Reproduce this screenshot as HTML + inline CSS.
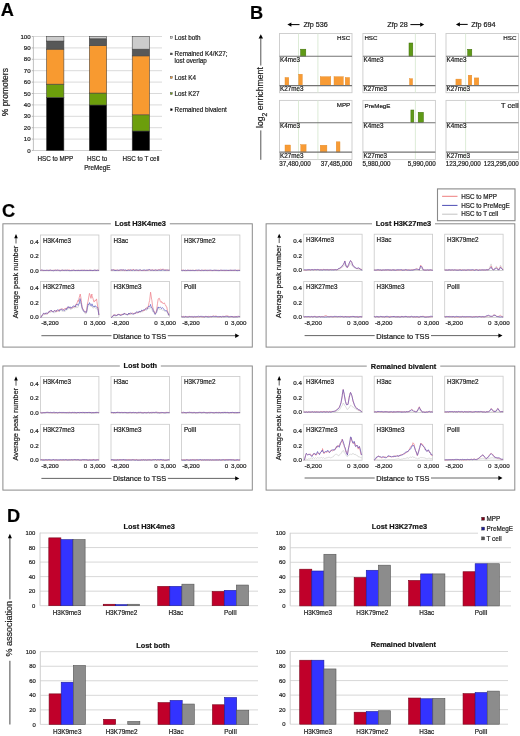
<!DOCTYPE html>
<html><head><meta charset="utf-8"><style>
html,body{margin:0;padding:0;background:#fff;}
svg{display:block;font-family:"Liberation Sans",sans-serif;will-change:transform;}
text{stroke:#222;stroke-width:0.2px;}
</style></head><body>
<svg width="520" height="736" viewBox="0 0 520 736">
<rect width="520" height="736" fill="#fff"/>
<text x="0.70" y="15.60" font-size="18.2" text-anchor="start" font-weight="bold" fill="#000" >A</text>
<line x1="33.40" y1="139.10" x2="162.00" y2="139.10" stroke="#d6d6d6" stroke-width="0.9"/>
<line x1="33.40" y1="127.70" x2="162.00" y2="127.70" stroke="#d6d6d6" stroke-width="0.9"/>
<line x1="33.40" y1="116.30" x2="162.00" y2="116.30" stroke="#d6d6d6" stroke-width="0.9"/>
<line x1="33.40" y1="104.90" x2="162.00" y2="104.90" stroke="#d6d6d6" stroke-width="0.9"/>
<line x1="33.40" y1="93.50" x2="162.00" y2="93.50" stroke="#d6d6d6" stroke-width="0.9"/>
<line x1="33.40" y1="82.10" x2="162.00" y2="82.10" stroke="#d6d6d6" stroke-width="0.9"/>
<line x1="33.40" y1="70.70" x2="162.00" y2="70.70" stroke="#d6d6d6" stroke-width="0.9"/>
<line x1="33.40" y1="59.30" x2="162.00" y2="59.30" stroke="#d6d6d6" stroke-width="0.9"/>
<line x1="33.40" y1="47.90" x2="162.00" y2="47.90" stroke="#d6d6d6" stroke-width="0.9"/>
<line x1="33.40" y1="36.50" x2="162.00" y2="36.50" stroke="#d6d6d6" stroke-width="0.9"/>
<line x1="33.40" y1="150.50" x2="162.00" y2="150.50" stroke="#cfcfcf" stroke-width="1.2"/>
<line x1="33.40" y1="36.50" x2="33.40" y2="150.50" stroke="#b0b0b0" stroke-width="0.8"/>
<line x1="31.80" y1="150.50" x2="33.40" y2="150.50" stroke="#aaaaaa" stroke-width="0.8"/>
<text x="30.60" y="152.60" font-size="6.1" text-anchor="end" fill="#222" >0</text>
<line x1="31.80" y1="139.10" x2="33.40" y2="139.10" stroke="#aaaaaa" stroke-width="0.8"/>
<text x="30.60" y="141.20" font-size="6.1" text-anchor="end" fill="#222" >10</text>
<line x1="31.80" y1="127.70" x2="33.40" y2="127.70" stroke="#aaaaaa" stroke-width="0.8"/>
<text x="30.60" y="129.80" font-size="6.1" text-anchor="end" fill="#222" >20</text>
<line x1="31.80" y1="116.30" x2="33.40" y2="116.30" stroke="#aaaaaa" stroke-width="0.8"/>
<text x="30.60" y="118.40" font-size="6.1" text-anchor="end" fill="#222" >30</text>
<line x1="31.80" y1="104.90" x2="33.40" y2="104.90" stroke="#aaaaaa" stroke-width="0.8"/>
<text x="30.60" y="107.00" font-size="6.1" text-anchor="end" fill="#222" >40</text>
<line x1="31.80" y1="93.50" x2="33.40" y2="93.50" stroke="#aaaaaa" stroke-width="0.8"/>
<text x="30.60" y="95.60" font-size="6.1" text-anchor="end" fill="#222" >50</text>
<line x1="31.80" y1="82.10" x2="33.40" y2="82.10" stroke="#aaaaaa" stroke-width="0.8"/>
<text x="30.60" y="84.20" font-size="6.1" text-anchor="end" fill="#222" >60</text>
<line x1="31.80" y1="70.70" x2="33.40" y2="70.70" stroke="#aaaaaa" stroke-width="0.8"/>
<text x="30.60" y="72.80" font-size="6.1" text-anchor="end" fill="#222" >70</text>
<line x1="31.80" y1="59.30" x2="33.40" y2="59.30" stroke="#aaaaaa" stroke-width="0.8"/>
<text x="30.60" y="61.40" font-size="6.1" text-anchor="end" fill="#222" >80</text>
<line x1="31.80" y1="47.90" x2="33.40" y2="47.90" stroke="#aaaaaa" stroke-width="0.8"/>
<text x="30.60" y="50.00" font-size="6.1" text-anchor="end" fill="#222" >90</text>
<line x1="31.80" y1="36.50" x2="33.40" y2="36.50" stroke="#aaaaaa" stroke-width="0.8"/>
<text x="30.60" y="38.60" font-size="6.1" text-anchor="end" fill="#222" >100</text>
<rect x="46.50" y="97.38" width="17.40" height="53.12" fill="#000000" stroke="#404040" stroke-width="0.55"/>
<rect x="46.50" y="84.15" width="17.40" height="13.22" fill="#6c9e0c" stroke="#404040" stroke-width="0.55"/>
<rect x="46.50" y="49.15" width="17.40" height="35.00" fill="#f89a30" stroke="#404040" stroke-width="0.55"/>
<rect x="46.50" y="41.06" width="17.40" height="8.09" fill="#575858" stroke="#404040" stroke-width="0.55"/>
<rect x="46.50" y="36.50" width="17.40" height="4.56" fill="#cccccc" stroke="#404040" stroke-width="0.55"/>
<rect x="89.30" y="105.01" width="17.40" height="45.49" fill="#000000" stroke="#404040" stroke-width="0.55"/>
<rect x="89.30" y="93.04" width="17.40" height="11.97" fill="#6c9e0c" stroke="#404040" stroke-width="0.55"/>
<rect x="89.30" y="45.51" width="17.40" height="47.54" fill="#f89a30" stroke="#404040" stroke-width="0.55"/>
<rect x="89.30" y="38.78" width="17.40" height="6.73" fill="#575858" stroke="#404040" stroke-width="0.55"/>
<rect x="89.30" y="36.50" width="17.40" height="2.28" fill="#cccccc" stroke="#404040" stroke-width="0.55"/>
<rect x="132.20" y="131.01" width="17.40" height="19.49" fill="#000000" stroke="#404040" stroke-width="0.55"/>
<rect x="132.20" y="114.82" width="17.40" height="16.19" fill="#6c9e0c" stroke="#404040" stroke-width="0.55"/>
<rect x="132.20" y="55.88" width="17.40" height="58.94" fill="#f89a30" stroke="#404040" stroke-width="0.55"/>
<rect x="132.20" y="49.15" width="17.40" height="6.73" fill="#575858" stroke="#404040" stroke-width="0.55"/>
<rect x="132.20" y="36.50" width="17.40" height="12.65" fill="#cccccc" stroke="#404040" stroke-width="0.55"/>
<rect x="170.40" y="36.50" width="1.80" height="1.80" fill="#d0d0d0" stroke="#333" stroke-width="0.4"/>
<text x="174.60" y="39.60" font-size="6.3" text-anchor="start" fill="#222" >Lost both</text>
<rect x="170.40" y="53.00" width="1.80" height="1.80" fill="#575858" stroke="#333" stroke-width="0.4"/>
<text x="174.60" y="56.10" font-size="6.3" text-anchor="start" fill="#222" >Remained K4/K27;</text>
<rect x="170.40" y="76.60" width="1.80" height="1.80" fill="#f89a30" stroke="#333" stroke-width="0.4"/>
<text x="174.60" y="79.70" font-size="6.3" text-anchor="start" fill="#222" >Lost K4</text>
<rect x="170.40" y="92.60" width="1.80" height="1.80" fill="#6c9e0c" stroke="#333" stroke-width="0.4"/>
<text x="174.60" y="95.70" font-size="6.3" text-anchor="start" fill="#222" >Lost K27</text>
<rect x="170.40" y="108.80" width="1.80" height="1.80" fill="#000" stroke="#333" stroke-width="0.4"/>
<text x="174.60" y="111.90" font-size="6.3" text-anchor="start" fill="#222" >Remained bivalent</text>
<text x="174.60" y="63.30" font-size="6.3" text-anchor="start" fill="#222" >lost overlap</text>
<text x="55.30" y="161.20" font-size="6.3" text-anchor="middle" fill="#222" >HSC to MPP</text>
<text x="97.20" y="161.20" font-size="6.3" text-anchor="middle" fill="#222" >HSC to</text>
<text x="97.30" y="170.00" font-size="6.3" text-anchor="middle" fill="#222" >PreMegE</text>
<text x="141.00" y="161.20" font-size="6.3" text-anchor="middle" fill="#222" >HSC to T cell</text>
<text x="0" y="0" font-size="8.5" text-anchor="middle" fill="#222" transform="translate(8.0,92.2) rotate(-90)">% promoters</text>
<text x="249.90" y="18.50" font-size="18.2" text-anchor="start" font-weight="bold" fill="#000" >B</text>
<line x1="260.80" y1="38.30" x2="260.80" y2="65.50" stroke="#555" stroke-width="1.0"/>
<polygon points="260.80,34.30 258.60,38.60 263.00,38.60" fill="#000"/>
<line x1="260.80" y1="130.40" x2="260.80" y2="159.80" stroke="#555" stroke-width="1.0"/>
<text x="0" y="0" font-size="8.7" text-anchor="middle" fill="#222" transform="translate(262.8,97.6) rotate(-90)">log<tspan font-size="6.9" dy="4.0">2</tspan><tspan dy="-4.0"> enrichment</tspan></text>
<line x1="290.90" y1="24.60" x2="299.50" y2="24.60" stroke="#000" stroke-width="1.0"/>
<polygon points="287.40,24.60 291.40,22.50 291.40,26.70" fill="#000"/>
<text x="303.40" y="27.20" font-size="7.2" text-anchor="start" fill="#111" >Zfp 536</text>
<text x="387.30" y="27.20" font-size="7.2" text-anchor="start" fill="#111" >Zfp 28</text>
<line x1="410.40" y1="24.60" x2="420.70" y2="24.60" stroke="#000" stroke-width="1.0"/>
<polygon points="424.20,24.60 420.20,22.50 420.20,26.70" fill="#000"/>
<line x1="459.40" y1="24.40" x2="467.70" y2="24.40" stroke="#000" stroke-width="1.0"/>
<polygon points="455.90,24.40 459.90,22.30 459.90,26.50" fill="#000"/>
<text x="471.20" y="27.00" font-size="7.2" text-anchor="start" fill="#111" >Zfp 694</text>
<rect x="279.50" y="33.50" width="72.50" height="59.20" fill="#fff" stroke="#cbcbcb" stroke-width="0.9"/>
<rect x="362.90" y="33.50" width="72.50" height="59.20" fill="#fff" stroke="#cbcbcb" stroke-width="0.9"/>
<rect x="446.00" y="33.50" width="72.50" height="59.20" fill="#fff" stroke="#cbcbcb" stroke-width="0.9"/>
<rect x="279.50" y="100.40" width="72.50" height="59.20" fill="#fff" stroke="#cbcbcb" stroke-width="0.9"/>
<rect x="362.90" y="100.40" width="72.50" height="59.20" fill="#fff" stroke="#cbcbcb" stroke-width="0.9"/>
<rect x="446.00" y="100.40" width="72.50" height="59.20" fill="#fff" stroke="#cbcbcb" stroke-width="0.9"/>
<line x1="298.50" y1="33.50" x2="298.50" y2="92.70" stroke="#d9ead3" stroke-width="0.9"/>
<line x1="317.90" y1="33.50" x2="317.90" y2="92.70" stroke="#d9ead3" stroke-width="0.9"/>
<line x1="415.40" y1="33.50" x2="415.40" y2="92.70" stroke="#d9ead3" stroke-width="0.9"/>
<line x1="465.60" y1="33.50" x2="465.60" y2="92.70" stroke="#d9ead3" stroke-width="0.9"/>
<line x1="298.50" y1="100.40" x2="298.50" y2="159.60" stroke="#d9ead3" stroke-width="0.9"/>
<line x1="317.90" y1="100.40" x2="317.90" y2="159.60" stroke="#d9ead3" stroke-width="0.9"/>
<line x1="415.40" y1="100.40" x2="415.40" y2="159.60" stroke="#d9ead3" stroke-width="0.9"/>
<line x1="465.60" y1="100.40" x2="465.60" y2="159.60" stroke="#d9ead3" stroke-width="0.9"/>
<rect x="300.60" y="49.20" width="5.20" height="7.00" fill="#5f9a16" stroke="#3f6e08" stroke-width="0.5"/>
<rect x="285.00" y="77.50" width="3.80" height="8.10" fill="#f89b35" stroke="#e08a28" stroke-width="0.4"/>
<rect x="298.70" y="74.20" width="3.60" height="11.40" fill="#f89b35" stroke="#e08a28" stroke-width="0.4"/>
<rect x="320.20" y="76.70" width="10.60" height="8.90" fill="#f89b35" stroke="#e08a28" stroke-width="0.4"/>
<rect x="334.00" y="76.70" width="9.30" height="8.90" fill="#f89b35" stroke="#e08a28" stroke-width="0.4"/>
<rect x="345.20" y="77.50" width="4.40" height="8.10" fill="#f89b35" stroke="#e08a28" stroke-width="0.4"/>
<rect x="409.00" y="43.00" width="3.80" height="13.20" fill="#5f9a16" stroke="#3f6e08" stroke-width="0.5"/>
<rect x="409.50" y="78.70" width="3.10" height="6.90" fill="#f89b35" stroke="#e08a28" stroke-width="0.4"/>
<rect x="467.70" y="49.30" width="4.10" height="6.90" fill="#5f9a16" stroke="#3f6e08" stroke-width="0.5"/>
<rect x="455.90" y="79.10" width="5.30" height="6.50" fill="#f89b35" stroke="#e08a28" stroke-width="0.4"/>
<rect x="468.20" y="75.20" width="3.60" height="10.40" fill="#f89b35" stroke="#e08a28" stroke-width="0.4"/>
<rect x="474.20" y="77.90" width="4.60" height="7.70" fill="#f89b35" stroke="#e08a28" stroke-width="0.4"/>
<rect x="285.00" y="145.00" width="5.50" height="7.10" fill="#f89b35" stroke="#e08a28" stroke-width="0.4"/>
<rect x="300.80" y="144.60" width="5.30" height="7.50" fill="#f89b35" stroke="#e08a28" stroke-width="0.4"/>
<rect x="320.20" y="145.20" width="6.70" height="6.90" fill="#f89b35" stroke="#e08a28" stroke-width="0.4"/>
<rect x="336.20" y="141.80" width="3.80" height="10.30" fill="#f89b35" stroke="#e08a28" stroke-width="0.4"/>
<rect x="410.90" y="110.00" width="2.90" height="12.70" fill="#5f9a16" stroke="#3f6e08" stroke-width="0.5"/>
<rect x="418.20" y="112.30" width="5.20" height="10.40" fill="#5f9a16" stroke="#3f6e08" stroke-width="0.5"/>
<line x1="279.50" y1="56.20" x2="352.00" y2="56.20" stroke="#737373" stroke-width="1.1"/>
<line x1="279.50" y1="85.60" x2="352.00" y2="85.60" stroke="#737373" stroke-width="1.1"/>
<text x="280.10" y="61.80" font-size="6.3" text-anchor="start" fill="#222" >K4me3</text>
<text x="280.10" y="91.40" font-size="6.3" text-anchor="start" fill="#222" >K27me3</text>
<line x1="362.90" y1="56.20" x2="435.40" y2="56.20" stroke="#737373" stroke-width="1.1"/>
<line x1="362.90" y1="85.60" x2="435.40" y2="85.60" stroke="#737373" stroke-width="1.1"/>
<text x="363.50" y="61.80" font-size="6.3" text-anchor="start" fill="#222" >K4me3</text>
<text x="363.50" y="91.40" font-size="6.3" text-anchor="start" fill="#222" >K27me3</text>
<line x1="446.00" y1="56.20" x2="518.50" y2="56.20" stroke="#737373" stroke-width="1.1"/>
<line x1="446.00" y1="85.60" x2="518.50" y2="85.60" stroke="#737373" stroke-width="1.1"/>
<text x="446.60" y="61.80" font-size="6.3" text-anchor="start" fill="#222" >K4me3</text>
<text x="446.60" y="91.40" font-size="6.3" text-anchor="start" fill="#222" >K27me3</text>
<line x1="279.50" y1="122.70" x2="352.00" y2="122.70" stroke="#737373" stroke-width="1.1"/>
<line x1="279.50" y1="152.10" x2="352.00" y2="152.10" stroke="#737373" stroke-width="1.1"/>
<text x="280.10" y="128.30" font-size="6.3" text-anchor="start" fill="#222" >K4me3</text>
<text x="280.10" y="157.90" font-size="6.3" text-anchor="start" fill="#222" >K27me3</text>
<line x1="362.90" y1="122.70" x2="435.40" y2="122.70" stroke="#737373" stroke-width="1.1"/>
<line x1="362.90" y1="152.10" x2="435.40" y2="152.10" stroke="#737373" stroke-width="1.1"/>
<text x="363.50" y="128.30" font-size="6.3" text-anchor="start" fill="#222" >K4me3</text>
<text x="363.50" y="157.90" font-size="6.3" text-anchor="start" fill="#222" >K27me3</text>
<line x1="446.00" y1="122.70" x2="518.50" y2="122.70" stroke="#737373" stroke-width="1.1"/>
<line x1="446.00" y1="152.10" x2="518.50" y2="152.10" stroke="#737373" stroke-width="1.1"/>
<text x="446.60" y="128.30" font-size="6.3" text-anchor="start" fill="#222" >K4me3</text>
<text x="446.60" y="157.90" font-size="6.3" text-anchor="start" fill="#222" >K27me3</text>
<text x="350.20" y="40.20" font-size="6.2" text-anchor="end" fill="#222" >HSC</text>
<text x="364.40" y="40.20" font-size="6.2" text-anchor="start" fill="#222" >HSC</text>
<text x="516.40" y="40.20" font-size="6.2" text-anchor="end" fill="#222" >HSC</text>
<text x="350.20" y="107.40" font-size="6.2" text-anchor="end" fill="#222" >MPP</text>
<text x="364.60" y="107.60" font-size="6.2" text-anchor="start" fill="#222" >PreMegE</text>
<text x="518.60" y="107.50" font-size="7.4" text-anchor="end" fill="#111" >T cell</text>
<text x="279.20" y="166.00" font-size="6.3" text-anchor="start" fill="#222" >37,480,000</text>
<text x="352.30" y="166.00" font-size="6.3" text-anchor="end" fill="#222" >37,485,000</text>
<text x="362.60" y="166.00" font-size="6.3" text-anchor="start" fill="#222" >5,980,000</text>
<text x="435.70" y="166.00" font-size="6.3" text-anchor="end" fill="#222" >5,990,000</text>
<text x="445.70" y="166.00" font-size="6.3" text-anchor="start" fill="#222" >123,290,000</text>
<text x="518.80" y="166.00" font-size="6.3" text-anchor="end" fill="#222" >123,295,000</text>
<text x="2.00" y="217.30" font-size="18.2" text-anchor="start" font-weight="bold" fill="#000" >C</text>
<rect x="2.90" y="223.80" width="249.40" height="123.30" fill="none" stroke="#8a8a8a" stroke-width="1"/>
<rect x="110.80" y="221.80" width="59.00" height="4.00" fill="#fff" stroke="none" stroke-width="0.6"/>
<text x="140.30" y="226.20" font-size="7.4" text-anchor="middle" font-weight="bold" fill="#111" >Lost H3K4me3</text>
<line x1="16.00" y1="237.90" x2="16.00" y2="243.50" stroke="#333" stroke-width="0.8"/>
<polygon points="16.00,234.10 14.20,238.20 17.80,238.20" fill="#000"/>
<text x="0" y="0" font-size="7.4" text-anchor="middle" fill="#222" transform="translate(18.00,282.05) rotate(-90)">Average peak number</text>
<line x1="41.40" y1="335.70" x2="111.50" y2="335.70" stroke="#555" stroke-width="0.9"/>
<text x="139.60" y="338.70" font-size="7.4" text-anchor="middle" fill="#111" >Distance to TSS</text>
<line x1="167.80" y1="335.70" x2="236.00" y2="335.70" stroke="#555" stroke-width="0.9"/>
<polygon points="239.30,335.70 235.20,333.50 235.20,337.90" fill="#000"/>
<rect x="40.50" y="235.00" width="58.40" height="35.80" fill="#fff" stroke="#c9c9c9" stroke-width="0.8"/>
<text x="42.90" y="242.60" font-size="6.3" text-anchor="start" fill="#222" >H3K4me3</text>
<polyline points="40.50,270.18 40.50,269.96 41.49,269.97 42.00,270.18 42.48,270.52 43.47,270.75 43.49,270.56 44.46,270.40 44.99,270.55 45.45,270.34 46.44,270.16 46.49,270.23 47.43,270.35 47.99,270.27 48.42,270.23 49.41,270.25 49.48,270.30 50.40,270.36 50.98,270.46 51.39,270.58 52.38,270.37 52.48,270.33 53.37,270.38 53.98,270.33 54.36,270.22 55.35,270.10 55.47,270.34 56.34,270.23 56.97,270.52 57.33,270.47 58.32,270.44 58.47,270.40 59.31,270.52 59.97,270.42 60.30,270.61 61.29,270.52 61.46,270.28 62.28,270.23 62.96,270.16 63.27,270.26 64.26,270.24 64.46,270.18 65.25,270.09 65.96,270.36 66.24,270.35 67.23,270.36 67.45,270.40 68.22,270.56 68.95,270.47 69.21,270.71 70.19,270.64 70.45,270.57 71.18,270.74 71.95,270.58 72.17,270.54 73.16,270.19 73.44,270.39 74.15,270.34 74.94,270.45 75.14,270.60 76.13,270.24 76.44,270.43 77.12,270.18 77.94,270.21 78.11,270.11 79.10,270.13 79.43,270.36 80.09,270.23 80.93,270.35 81.08,270.22 82.07,270.52 82.43,270.49 83.06,270.30 83.93,270.58 84.05,270.35 85.04,270.64 85.42,270.45 86.03,270.36 86.92,270.53 87.02,270.42 88.01,270.43 88.42,270.37 89.00,270.27 89.92,270.16 89.99,270.17 90.98,270.06 91.41,270.30 91.97,270.38 92.91,270.51 92.96,270.34 93.95,270.37 94.41,270.21 94.94,270.04 95.91,270.25 95.93,270.06 96.92,270.28 97.40,270.27 97.91,270.22 98.90,270.20 98.90,270.00" fill="none" stroke="#cdcdcd" stroke-width="0.8" stroke-opacity="0.85" stroke-linejoin="round"/>
<polyline points="40.50,270.23 40.50,270.06 41.49,270.13 42.00,270.26 42.48,270.35 43.47,270.52 43.49,270.41 44.46,270.45 44.99,270.48 45.45,270.49 46.44,270.24 46.49,270.37 47.43,270.49 47.99,270.41 48.42,270.38 49.41,270.22 49.48,270.25 50.40,270.18 50.98,270.46 51.39,270.44 52.38,270.49 52.48,270.38 53.37,270.24 53.98,270.34 54.36,270.25 55.35,270.33 55.47,270.20 56.34,270.10 56.97,270.37 57.33,270.17 58.32,270.31 58.47,270.47 59.31,270.16 59.97,270.27 60.30,270.37 61.29,270.21 61.46,270.32 62.28,270.22 62.96,270.48 63.27,270.34 64.26,270.25 64.46,270.20 65.25,270.38 65.96,270.17 66.24,270.21 67.23,270.18 67.45,270.24 68.22,270.02 68.95,270.20 69.21,270.02 70.19,270.42 70.45,270.45 71.18,270.19 71.95,270.28 72.17,270.38 73.16,270.07 73.44,270.20 74.15,270.22 74.94,270.30 75.14,270.54 76.13,270.26 76.44,270.39 77.12,270.51 77.94,270.54 78.11,270.38 79.10,270.35 79.43,270.40 80.09,270.61 80.93,270.33 81.08,270.32 82.07,270.05 82.43,270.20 83.06,270.31 83.93,270.18 84.05,270.28 85.04,270.15 85.42,270.38 86.03,270.46 86.92,270.22 87.02,270.20 88.01,270.53 88.42,270.48 89.00,270.16 89.92,270.24 89.99,270.10 90.98,270.35 91.41,270.35 91.97,270.64 92.91,270.58 92.96,270.65 93.95,270.37 94.41,270.28 94.94,270.12 95.91,270.42 95.93,270.60 96.92,270.27 97.40,270.24 97.91,270.16 98.90,270.30 98.90,270.28" fill="none" stroke="#ee7f88" stroke-width="0.8" stroke-opacity="0.9" stroke-linejoin="round"/>
<polyline points="40.50,270.70 40.50,270.53 41.49,270.16 42.00,270.23 42.48,270.11 43.47,270.38 43.49,270.26 44.46,270.40 44.99,270.48 45.45,270.47 46.44,270.31 46.49,270.38 47.43,270.25 47.99,270.40 48.42,270.56 49.41,270.54 49.48,270.31 50.40,270.11 50.98,270.25 51.39,270.36 52.38,270.40 52.48,270.55 53.37,270.80 53.98,270.57 54.36,270.51 55.35,270.15 55.47,270.23 56.34,270.46 56.97,270.40 57.33,270.16 58.32,270.08 58.47,270.26 59.31,270.66 59.97,270.59 60.30,270.77 61.29,270.40 61.46,270.40 62.28,270.12 62.96,270.28 63.27,270.38 64.26,270.59 64.46,270.49 65.25,270.37 65.96,270.18 66.24,270.42 67.23,270.33 67.45,270.20 68.22,270.42 68.95,270.57 69.21,270.58 70.19,270.70 70.45,270.58 71.18,270.59 71.95,270.36 72.17,270.46 73.16,270.24 73.44,270.19 74.15,270.40 74.94,270.42 75.14,270.66 76.13,270.32 76.44,270.49 77.12,270.43 77.94,270.41 78.11,270.36 79.10,270.68 79.43,270.57 80.09,270.31 80.93,270.49 81.08,270.31 82.07,270.60 82.43,270.40 83.06,270.47 83.93,270.38 84.05,270.28 85.04,270.36 85.42,270.49 86.03,270.28 86.92,270.49 87.02,270.53 88.01,270.34 88.42,270.49 89.00,270.37 89.92,270.39 89.99,270.49 90.98,270.40 91.41,270.46 91.97,270.33 92.91,270.58 92.96,270.40 93.95,270.33 94.41,270.23 94.94,270.23 95.91,270.35 95.93,270.57 96.92,270.45 97.40,270.31 97.91,270.24 98.90,270.55 98.90,270.51" fill="none" stroke="#5454bf" stroke-width="0.8" stroke-opacity="0.8" stroke-linejoin="round"/>
<rect x="111.00" y="235.00" width="58.40" height="35.80" fill="#fff" stroke="#c9c9c9" stroke-width="0.8"/>
<text x="113.40" y="242.60" font-size="6.3" text-anchor="start" fill="#222" >H3ac</text>
<polyline points="111.00,270.49 111.00,270.48 111.99,270.40 112.33,270.30 112.98,270.47 113.65,270.30 113.97,270.10 114.96,270.46 114.98,270.23 115.95,270.43 116.31,270.51 116.94,270.31 117.64,270.49 117.93,270.69 118.92,270.50 118.96,270.52 119.91,270.45 120.29,270.49 120.90,270.61 121.62,270.27 121.89,270.38 122.88,270.42 122.95,270.53 123.87,270.44 124.27,270.36 124.86,270.31 125.60,270.50 125.85,270.65 126.84,270.59 126.93,270.46 127.83,270.61 128.25,270.40 128.82,270.33 129.58,270.23 129.81,270.04 130.80,270.28 130.91,270.33 131.79,270.37 132.24,270.58 132.78,270.59 133.56,270.47 133.77,270.36 134.76,270.71 134.89,270.52 135.75,270.43 136.22,270.22 136.74,270.14 137.55,270.24 137.73,270.13 138.72,270.28 138.87,270.24 139.71,270.44 140.20,270.23 140.69,270.36 141.53,270.27 141.68,270.40 142.67,270.30 142.85,270.18 143.66,270.07 144.18,270.25 144.65,270.47 145.51,270.48 145.64,270.27 146.63,270.08 146.84,270.22 147.62,270.53 148.16,270.38 148.61,270.40 149.49,270.27 149.60,270.28 150.59,270.56 150.82,270.35 151.58,270.42 152.15,270.40 152.57,270.22 153.47,270.43 153.56,270.61 154.55,270.36 154.80,270.40 155.54,270.61 156.13,270.45 156.53,270.44 157.45,270.54 157.52,270.34 158.51,270.44 158.78,270.24 159.50,270.48 160.11,270.25 160.49,270.42 161.44,270.17 161.48,270.15 162.47,270.50 162.76,270.29 163.46,270.52 164.09,270.35 164.45,270.33 165.42,270.27 165.44,270.07 166.43,270.51 166.75,270.53 167.42,270.46 168.07,270.30 168.41,270.26 169.40,270.59 169.40,270.40" fill="none" stroke="#cdcdcd" stroke-width="0.8" stroke-opacity="0.85" stroke-linejoin="round"/>
<polyline points="111.00,270.22 111.00,270.13 111.99,270.23 112.33,270.04 112.98,269.81 113.65,269.73 113.97,270.04 114.96,270.10 114.98,270.12 115.95,270.16 116.31,270.08 116.94,270.27 117.64,270.02 117.93,270.09 118.92,270.57 118.96,270.36 119.91,270.19 120.29,270.08 120.90,270.25 121.62,269.98 121.89,270.15 122.88,269.89 122.95,269.84 123.87,270.10 124.27,270.44 124.86,270.54 125.60,270.26 125.85,270.42 126.84,270.37 126.93,270.44 127.83,269.80 128.25,269.83 128.82,269.83 129.58,269.93 129.81,270.07 130.80,270.21 130.91,270.48 131.79,270.18 132.24,269.68 132.78,269.50 133.56,269.69 133.77,269.84 134.76,270.11 134.89,269.96 135.75,270.17 136.22,269.99 136.74,270.24 137.55,270.38 137.73,270.25 138.72,270.64 138.87,270.50 139.71,270.19 140.20,270.07 140.69,270.15 141.53,270.47 141.68,270.51 142.67,270.35 142.85,270.35 143.66,270.54 144.18,270.31 144.65,270.58 145.51,270.49 145.64,270.59 146.63,270.09 146.84,270.12 147.62,270.17 148.16,270.14 148.61,270.12 149.49,269.80 149.60,269.78 150.59,270.05 150.82,270.07 151.58,270.11 152.15,269.97 152.57,269.86 153.47,270.09 153.56,269.98 154.55,270.10 154.80,269.95 155.54,270.01 156.13,270.13 156.53,270.16 157.45,270.27 157.52,270.06 158.51,269.63 158.78,269.62 159.50,269.66 160.11,269.49 160.49,269.21 161.44,269.38 161.48,269.58 162.47,269.33 162.76,269.25 163.46,269.28 164.09,269.56 164.45,269.82 165.42,269.85 165.44,269.86 166.43,270.23 166.75,270.05 167.42,270.14 168.07,270.39 168.41,270.13 169.40,269.85 169.40,269.81" fill="none" stroke="#ee7f88" stroke-width="0.8" stroke-opacity="0.9" stroke-linejoin="round"/>
<polyline points="111.00,270.24 111.00,270.11 111.99,269.77 112.33,269.96 112.98,270.14 113.65,269.95 113.97,269.95 114.96,270.58 114.98,270.39 115.95,270.59 116.31,270.51 116.94,270.12 117.64,270.20 117.93,270.36 118.92,270.21 118.96,270.28 119.91,269.98 120.29,269.83 120.90,269.90 121.62,269.93 121.89,269.95 122.88,270.15 122.95,270.00 123.87,269.87 124.27,270.04 124.86,270.20 125.60,269.95 125.85,270.17 126.84,270.59 126.93,270.39 127.83,270.33 128.25,270.14 128.82,270.29 129.58,270.38 129.81,270.08 130.80,269.86 130.91,269.74 131.79,270.41 132.24,270.47 132.78,270.32 133.56,269.82 133.77,269.67 134.76,270.60 134.89,270.45 135.75,270.06 136.22,269.93 136.74,270.11 137.55,270.23 137.73,270.14 138.72,270.26 138.87,270.17 139.71,269.84 140.20,269.80 140.69,270.06 141.53,270.50 141.68,270.43 142.67,270.28 142.85,270.46 143.66,269.98 144.18,269.74 144.65,270.04 145.51,270.08 145.64,270.33 146.63,270.17 146.84,270.44 147.62,269.99 148.16,269.67 148.61,269.84 149.49,269.71 149.60,269.54 150.59,270.26 150.82,270.42 151.58,270.16 152.15,270.16 152.57,270.05 153.47,270.40 153.56,270.49 154.55,270.35 154.80,270.25 155.54,269.92 156.13,269.99 156.53,270.28 157.45,270.38 157.52,270.23 158.51,270.21 158.78,269.92 159.50,270.13 160.11,270.47 160.49,270.35 161.44,270.37 161.48,270.14 162.47,269.77 162.76,269.82 163.46,270.01 164.09,270.17 164.45,270.32 165.42,270.16 165.44,270.33 166.43,270.03 166.75,270.01 167.42,270.06 168.07,270.11 168.41,270.34 169.40,270.19 169.40,269.99" fill="none" stroke="#5454bf" stroke-width="0.8" stroke-opacity="0.8" stroke-linejoin="round"/>
<rect x="181.50" y="235.00" width="58.40" height="35.80" fill="#fff" stroke="#c9c9c9" stroke-width="0.8"/>
<text x="183.90" y="242.60" font-size="6.3" text-anchor="start" fill="#222" >H3K79me2</text>
<polyline points="181.50,270.55 181.50,270.49 182.49,270.53 183.00,270.54 183.48,270.54 184.47,270.45 184.49,270.42 185.46,270.53 185.99,270.52 186.45,270.46 187.44,270.67 187.49,270.56 188.43,270.41 188.99,270.42 189.42,270.59 190.41,270.30 190.48,270.20 191.40,270.31 191.98,270.25 192.39,270.42 193.38,270.14 193.48,270.26 194.37,270.49 194.98,270.49 195.36,270.32 196.35,270.15 196.47,270.36 197.34,270.54 197.97,270.47 198.33,270.29 199.32,270.36 199.47,270.51 200.31,270.45 200.97,270.54 201.30,270.75 202.29,270.52 202.46,270.50 203.28,270.27 203.96,270.19 204.27,270.30 205.26,270.36 205.46,270.23 206.25,270.33 206.96,270.24 207.24,270.36 208.23,270.11 208.45,270.25 209.22,270.45 209.95,270.50 210.21,270.53 211.19,270.40 211.45,270.46 212.18,270.18 212.95,270.32 213.17,270.41 214.16,270.50 214.44,270.28 215.15,270.02 215.94,270.22 216.14,270.06 217.13,270.07 217.44,270.21 218.12,270.36 218.94,270.55 219.11,270.65 220.10,270.54 220.43,270.33 221.09,270.41 221.93,270.30 222.08,270.33 223.07,270.56 223.43,270.37 224.06,270.34 224.93,270.51 225.05,270.39 226.04,270.65 226.42,270.39 227.03,270.29 227.92,270.55 228.02,270.53 229.01,270.09 229.42,270.19 230.00,270.21 230.92,270.22 230.99,270.08 231.98,270.34 232.41,270.35 232.97,270.34 233.91,270.46 233.96,270.45 234.95,270.51 235.41,270.20 235.94,270.42 236.91,270.34 236.93,270.47 237.92,270.30 238.40,270.21 238.91,270.28 239.90,270.23 239.90,270.21" fill="none" stroke="#cdcdcd" stroke-width="0.8" stroke-opacity="0.85" stroke-linejoin="round"/>
<polyline points="181.50,270.37 181.50,270.18 182.49,270.08 183.00,270.18 183.48,270.23 184.47,270.35 184.49,270.56 185.46,270.66 185.99,270.55 186.45,270.57 187.44,270.13 187.49,270.23 188.43,270.18 188.99,270.27 189.42,270.38 190.41,270.21 190.48,270.30 191.40,270.44 191.98,270.46 192.39,270.29 193.38,270.52 193.48,270.33 194.37,270.46 194.98,270.33 195.36,270.14 196.35,270.41 196.47,270.34 197.34,270.56 197.97,270.52 198.33,270.35 199.32,270.35 199.47,270.40 200.31,270.58 200.97,270.42 201.30,270.36 202.29,270.22 202.46,270.28 203.28,270.38 203.96,270.16 204.27,270.09 205.26,270.36 205.46,270.18 206.25,270.35 206.96,270.36 207.24,270.56 208.23,270.53 208.45,270.40 209.22,270.21 209.95,270.47 210.21,270.53 211.19,270.33 211.45,270.57 212.18,270.60 212.95,270.58 213.17,270.50 214.16,270.25 214.44,270.39 215.15,270.33 215.94,270.45 216.14,270.63 217.13,270.39 217.44,270.43 218.12,270.26 218.94,270.21 219.11,270.38 220.10,270.52 220.43,270.36 221.09,270.18 221.93,270.35 222.08,270.36 223.07,270.60 223.43,270.49 224.06,270.55 224.93,270.58 225.05,270.70 226.04,270.34 226.42,270.45 227.03,270.48 227.92,270.53 228.02,270.70 229.01,270.26 229.42,270.37 230.00,270.49 230.92,270.16 230.99,270.27 231.98,270.49 232.41,270.30 232.97,270.26 233.91,270.51 233.96,270.68 234.95,270.29 235.41,270.21 235.94,270.42 236.91,270.25 236.93,270.26 237.92,270.18 238.40,270.27 238.91,270.23 239.90,270.22 239.90,270.20" fill="none" stroke="#ee7f88" stroke-width="0.8" stroke-opacity="0.9" stroke-linejoin="round"/>
<polyline points="181.50,270.49 181.50,270.27 182.49,270.63 183.00,270.36 183.48,270.27 184.47,270.59 184.49,270.43 185.46,270.13 185.99,270.33 186.45,270.56 187.44,270.14 187.49,270.32 188.43,270.38 188.99,270.56 189.42,270.40 190.41,270.35 190.48,270.58 191.40,270.49 191.98,270.23 192.39,270.37 193.38,270.36 193.48,270.48 194.37,270.59 194.98,270.49 195.36,270.52 196.35,270.32 196.47,270.16 197.34,270.12 197.97,270.39 198.33,270.17 199.32,270.10 199.47,270.23 200.31,270.45 200.97,270.38 201.30,270.17 202.29,270.32 202.46,270.31 203.28,270.55 203.96,270.52 204.27,270.50 205.26,270.38 205.46,270.32 206.25,270.47 206.96,270.22 207.24,270.21 208.23,270.41 208.45,270.36 209.22,270.28 209.95,270.27 210.21,270.07 211.19,270.23 211.45,270.30 212.18,270.47 212.95,270.56 213.17,270.34 214.16,270.08 214.44,270.26 215.15,270.30 215.94,270.34 216.14,270.14 217.13,270.66 217.44,270.46 218.12,270.68 218.94,270.57 219.11,270.68 220.10,270.09 220.43,270.22 221.09,270.20 221.93,270.39 222.08,270.27 223.07,270.41 223.43,270.28 224.06,270.25 224.93,270.21 225.05,270.03 226.04,270.46 226.42,270.28 227.03,270.43 227.92,270.19 228.02,270.43 229.01,270.37 229.42,270.42 230.00,270.19 230.92,270.25 230.99,270.23 231.98,270.40 232.41,270.40 232.97,270.32 233.91,270.19 233.96,270.34 234.95,269.99 235.41,270.21 235.94,270.40 236.91,270.55 236.93,270.67 237.92,270.62 238.40,270.53 238.91,270.37 239.90,270.58 239.90,270.49" fill="none" stroke="#5454bf" stroke-width="0.8" stroke-opacity="0.8" stroke-linejoin="round"/>
<text x="38.70" y="243.80" font-size="6.2" text-anchor="end" fill="#222" >0.4</text>
<text x="38.70" y="258.20" font-size="6.2" text-anchor="end" fill="#222" >0.2</text>
<text x="38.70" y="272.60" font-size="6.2" text-anchor="end" fill="#222" >0.0</text>
<rect x="40.50" y="281.40" width="58.40" height="36.00" fill="#fff" stroke="#c9c9c9" stroke-width="0.8"/>
<text x="42.90" y="289.00" font-size="6.3" text-anchor="start" fill="#222" >H3K27me3</text>
<polyline points="40.50,316.79 41.07,317.39 41.49,317.40 42.48,315.02 42.91,314.77 43.47,315.10 44.46,313.27 45.36,313.73 45.45,314.61 46.44,313.38 47.20,314.25 47.43,313.74 48.42,312.55 49.41,311.38 49.65,312.16 50.40,312.47 51.39,311.99 51.48,311.63 52.38,311.48 53.37,312.63 53.93,312.37 54.36,312.71 55.35,312.49 56.34,310.91 56.38,311.63 57.33,310.76 58.32,310.81 59.31,311.91 59.44,311.32 60.30,310.16 61.29,310.74 61.89,310.59 62.28,311.33 63.27,311.23 63.73,311.32 64.26,311.17 65.25,311.35 66.18,309.85 66.24,309.69 67.23,309.82 68.22,308.99 68.62,309.02 69.21,308.16 70.19,309.12 70.46,309.54 71.18,309.48 72.17,307.97 72.30,308.81 73.16,307.29 74.15,308.20 74.75,307.97 75.14,306.48 76.13,308.09 76.58,306.40 77.12,307.40 78.11,307.31 78.42,306.40 79.10,303.54 80.09,301.97 80.26,302.22 81.08,304.39 81.48,306.40 82.07,308.95 82.71,310.59 83.06,311.00 84.05,311.35 84.54,312.68 85.04,313.58 86.03,313.82 86.38,313.20 87.02,311.20 87.60,307.45 88.01,306.95 89.00,304.47 89.44,304.83 89.99,305.26 90.91,306.40 90.98,306.67 91.89,306.40 91.97,306.47 92.96,308.16 93.73,307.97 93.95,306.73 94.94,307.84 94.95,307.45 95.93,308.76 96.54,308.49 96.92,309.36 97.91,309.21 98.01,310.06 98.87,315.29 98.90,315.58" fill="none" stroke="#cdcdcd" stroke-width="0.8" stroke-opacity="0.85" stroke-linejoin="round"/>
<polyline points="40.50,317.40 41.07,317.38 41.49,316.43 42.48,314.74 42.91,314.31 43.47,313.42 44.46,314.10 45.36,313.08 45.45,313.61 46.44,314.08 47.20,313.69 47.43,313.96 48.42,312.01 49.41,312.24 49.65,311.23 50.40,310.91 51.39,311.27 51.48,310.62 52.38,311.37 53.37,311.42 53.93,311.48 54.36,310.62 55.35,310.75 56.34,311.69 56.38,310.62 57.33,311.00 58.32,311.17 59.31,309.43 59.44,310.25 60.30,309.24 61.29,308.88 61.89,309.38 62.28,308.80 63.27,309.47 63.73,310.25 64.26,308.84 65.25,308.48 66.18,308.52 66.24,309.10 67.23,307.21 68.22,307.74 68.62,307.54 69.21,307.07 70.19,307.90 70.46,308.15 71.18,308.00 72.17,307.71 72.30,307.29 73.16,307.13 74.15,307.06 74.75,306.31 75.14,306.99 76.13,303.97 76.58,304.46 77.12,302.62 78.11,300.26 78.42,301.38 79.10,297.91 80.09,294.42 80.26,294.00 81.08,298.90 81.48,302.62 82.07,306.64 82.71,308.77 83.06,308.83 84.05,310.70 84.54,311.23 85.04,312.07 86.03,312.34 86.38,311.85 87.02,306.94 87.60,302.62 88.01,301.44 89.00,295.76 89.44,293.38 89.99,294.78 90.91,298.31 90.98,298.40 91.89,294.00 91.97,295.95 92.96,298.34 93.73,301.38 93.95,302.08 94.94,301.12 94.95,300.15 95.93,300.53 96.54,298.92 96.92,301.60 97.91,308.09 98.01,307.54 98.87,314.92 98.90,314.68" fill="none" stroke="#ee7f88" stroke-width="0.8" stroke-opacity="0.9" stroke-linejoin="round"/>
<polyline points="40.50,317.40 41.07,317.38 41.49,316.41 42.48,314.79 42.91,314.31 43.47,313.26 44.46,313.94 45.36,313.08 45.45,313.56 46.44,313.01 47.20,313.69 47.43,313.17 48.42,312.85 49.41,311.09 49.65,311.23 50.40,311.20 51.39,310.04 51.48,310.62 52.38,311.75 53.37,311.86 53.93,311.48 54.36,310.48 55.35,311.28 56.34,311.16 56.38,310.62 57.33,309.83 58.32,310.09 59.31,311.05 59.44,310.25 60.30,309.83 61.29,309.21 61.89,309.38 62.28,310.35 63.27,309.69 63.73,310.25 64.26,310.74 65.25,309.57 66.18,308.52 66.24,309.53 67.23,308.85 68.22,306.47 68.62,307.54 69.21,307.98 70.19,306.82 70.46,308.15 71.18,307.97 72.17,307.07 72.30,307.29 73.16,305.94 74.15,306.03 74.75,306.31 75.14,307.01 76.13,304.65 76.58,304.46 77.12,304.06 78.11,305.43 78.42,304.46 79.10,303.96 80.09,298.62 80.26,299.54 81.08,302.81 81.48,304.46 82.07,307.67 82.71,309.38 83.06,309.97 84.05,311.79 84.54,311.85 85.04,311.42 86.03,312.34 86.38,312.46 87.02,309.87 87.60,305.69 88.01,304.07 89.00,304.65 89.44,302.62 89.99,304.00 90.91,304.46 90.98,305.89 91.89,304.46 91.97,303.82 92.96,306.65 93.73,306.31 93.95,306.12 94.94,306.86 94.95,305.69 95.93,306.50 96.54,306.92 96.92,306.91 97.91,308.56 98.01,308.77 98.87,314.92 98.90,315.00" fill="none" stroke="#5454bf" stroke-width="0.8" stroke-opacity="0.8" stroke-linejoin="round"/>
<rect x="111.00" y="281.40" width="58.40" height="36.00" fill="#fff" stroke="#c9c9c9" stroke-width="0.8"/>
<text x="113.40" y="289.00" font-size="6.3" text-anchor="start" fill="#222" >H3K9me3</text>
<polyline points="111.00,316.87 111.69,317.39 111.99,317.40 112.98,316.89 113.97,314.75 114.14,315.29 114.96,315.90 115.95,316.19 116.59,315.82 116.94,315.46 117.93,315.46 118.92,314.26 119.04,314.77 119.91,315.34 120.90,314.52 121.48,315.29 121.89,315.38 122.88,314.55 123.87,313.62 123.93,314.25 124.86,314.17 125.85,314.04 126.38,314.77 126.84,314.41 127.83,315.25 128.82,313.89 128.83,314.46 129.81,314.16 130.80,314.41 131.28,314.04 131.79,314.56 132.78,313.63 133.73,314.25 133.77,314.11 134.76,313.12 135.75,312.94 136.18,313.20 136.74,312.32 137.73,312.76 138.63,312.68 138.72,312.32 139.71,312.25 140.69,312.66 141.08,312.16 141.68,311.08 142.67,311.82 143.53,311.11 143.66,310.52 144.65,309.74 145.64,309.90 145.97,310.06 146.63,310.43 147.62,308.43 147.81,309.02 148.61,308.31 149.04,308.49 149.60,308.65 150.59,308.04 150.63,306.93 151.58,308.49 151.85,309.02 152.57,311.47 153.32,312.16 153.56,311.77 154.55,313.90 155.16,314.77 155.54,314.25 156.38,313.20 156.53,312.97 157.52,309.96 158.22,308.49 158.51,307.71 159.44,309.02 159.50,309.44 160.49,309.51 161.48,309.28 161.89,309.54 162.47,310.32 163.46,310.36 164.34,311.11 164.45,311.05 165.44,311.47 166.43,311.24 166.79,311.63 167.42,312.84 168.41,315.46 168.63,315.29 169.40,314.61" fill="none" stroke="#cdcdcd" stroke-width="0.8" stroke-opacity="0.85" stroke-linejoin="round"/>
<polyline points="111.00,316.92 111.69,317.38 111.99,316.86 112.98,315.74 113.97,314.52 114.14,314.92 114.96,315.47 115.95,315.19 116.59,315.54 116.94,314.80 117.93,314.33 118.92,314.26 119.04,314.31 119.91,315.02 120.90,314.90 121.48,314.92 121.89,314.00 122.88,314.82 123.87,314.01 123.93,313.69 124.86,313.23 125.85,314.25 126.38,314.31 126.84,314.68 127.83,314.37 128.82,313.31 128.83,313.94 129.81,314.00 130.80,313.66 131.28,313.45 131.79,313.29 132.78,313.11 133.73,313.69 133.77,313.69 134.76,313.86 135.75,312.55 136.18,312.46 136.74,313.13 137.73,312.79 138.63,311.85 138.72,312.38 139.71,311.22 140.69,311.73 141.08,311.23 141.68,310.56 142.67,311.09 143.53,310.00 143.66,310.71 144.65,310.43 145.64,308.49 145.97,308.77 146.63,307.53 147.62,308.31 147.81,307.54 148.61,305.02 149.04,302.62 149.60,300.64 150.59,292.15 150.63,292.52 151.58,299.16 151.85,300.15 152.57,305.94 153.32,310.00 153.56,310.20 154.55,312.30 155.16,313.69 155.54,313.01 156.38,311.23 156.53,310.92 157.52,303.21 158.22,298.92 158.51,298.59 159.44,298.31 159.50,298.67 160.49,301.82 161.28,302.62 161.48,301.51 162.47,302.39 163.12,303.85 163.46,303.44 164.45,302.95 164.95,304.46 165.44,304.90 166.43,306.82 166.79,306.92 167.42,310.46 168.41,313.81 168.63,314.92 169.40,314.90" fill="none" stroke="#ee7f88" stroke-width="0.8" stroke-opacity="0.9" stroke-linejoin="round"/>
<polyline points="111.00,317.40 111.69,317.38 111.99,316.86 112.98,315.91 113.97,315.12 114.14,314.92 114.96,315.53 115.95,314.97 116.59,315.54 116.94,314.94 117.93,314.85 118.92,314.36 119.04,314.31 119.91,314.92 120.90,315.50 121.48,314.92 121.89,314.91 122.88,314.09 123.87,314.40 123.93,313.69 124.86,313.47 125.85,314.58 126.38,314.31 126.84,314.64 127.83,314.79 128.82,313.17 128.83,313.94 129.81,313.37 130.80,312.94 131.28,313.45 131.79,313.31 132.78,314.34 133.73,313.69 133.77,313.94 134.76,313.18 135.75,313.33 136.18,312.46 136.74,311.53 137.73,312.31 138.63,311.85 138.72,312.45 139.71,310.99 140.69,312.03 141.08,311.23 141.68,310.11 142.67,310.52 143.53,310.00 143.66,309.82 144.65,309.76 145.64,308.97 145.97,308.77 146.63,309.02 147.62,308.73 147.81,307.54 148.61,306.27 149.04,306.92 149.60,306.92 150.59,304.38 150.63,305.08 151.58,307.69 151.85,307.54 152.57,308.37 153.32,311.23 153.56,310.92 154.55,312.88 155.16,314.31 155.54,313.31 156.38,312.46 156.53,311.87 157.52,308.53 158.22,306.92 158.51,307.97 159.44,307.54 159.50,307.61 160.49,307.05 161.48,308.73 161.89,308.15 162.47,307.66 163.46,308.52 164.34,310.00 164.45,310.21 165.44,310.54 166.43,310.62 166.79,310.62 167.42,312.30 168.41,313.68 168.63,314.92 169.40,315.09" fill="none" stroke="#5454bf" stroke-width="0.8" stroke-opacity="0.8" stroke-linejoin="round"/>
<rect x="181.50" y="281.40" width="58.40" height="36.00" fill="#fff" stroke="#c9c9c9" stroke-width="0.8"/>
<text x="183.90" y="289.00" font-size="6.3" text-anchor="start" fill="#222" >PolII</text>
<polyline points="181.50,316.79 181.50,316.77 182.49,316.86 182.83,316.78 183.48,316.63 184.15,316.81 184.47,316.99 185.46,317.14 185.48,317.15 186.45,317.07 186.81,316.93 187.44,317.01 188.14,317.01 188.43,316.77 189.42,317.15 189.46,316.96 190.41,317.11 190.79,317.13 191.40,317.25 192.12,317.11 192.39,317.15 193.38,316.77 193.45,317.00 194.37,317.14 194.77,317.09 195.36,317.00 196.10,316.99 196.35,317.07 197.34,317.06 197.43,317.18 198.33,317.18 198.75,317.15 199.32,317.19 200.08,316.88 200.31,316.94 201.30,317.04 201.41,317.01 202.29,316.84 202.74,316.97 203.28,316.90 204.06,316.87 204.27,317.04 205.26,316.94 205.39,317.03 206.25,317.21 206.72,317.16 207.24,317.04 208.05,316.85 208.23,317.00 209.22,316.97 209.37,316.94 210.21,316.78 210.70,316.91 211.19,316.91 212.03,316.92 212.18,316.78 213.17,316.67 213.35,316.77 214.16,316.89 214.68,317.03 215.15,316.90 216.01,316.86 216.14,316.93 217.13,316.95 217.34,317.03 218.12,316.85 218.66,316.94 219.11,317.12 219.99,316.91 220.10,316.71 221.09,317.09 221.32,317.05 222.08,317.28 222.65,317.15 223.07,317.26 223.97,316.99 224.06,317.05 225.05,317.11 225.30,316.88 226.04,316.96 226.63,316.94 227.03,316.99 227.95,317.00 228.02,316.92 229.01,316.95 229.28,316.91 230.00,316.81 230.61,317.11 230.99,317.04 231.94,317.11 231.98,317.19 232.97,316.89 233.26,317.05 233.96,316.84 234.59,316.84 234.95,316.69 235.92,317.10 235.94,316.99 236.93,316.91 237.25,317.14 237.92,317.28 238.57,317.14 238.91,317.25 239.90,317.17 239.90,316.95" fill="none" stroke="#cdcdcd" stroke-width="0.8" stroke-opacity="0.85" stroke-linejoin="round"/>
<polyline points="181.50,316.93 181.50,316.86 182.49,316.55 182.83,316.56 183.48,316.35 184.15,316.59 184.47,316.77 185.46,316.92 185.48,316.70 186.45,316.68 186.81,316.89 187.44,316.78 188.14,316.48 188.43,316.54 189.42,316.31 189.46,316.47 190.41,316.78 190.79,316.68 191.40,316.48 192.12,316.69 192.39,316.73 193.38,317.07 193.45,316.88 194.37,316.79 194.77,317.04 195.36,316.89 196.10,316.78 196.35,316.96 197.34,316.47 197.43,316.63 198.33,316.75 198.75,317.00 199.32,316.66 200.08,316.48 200.31,316.47 201.30,316.61 201.41,316.88 202.29,317.11 202.74,316.88 203.28,316.71 204.06,317.01 204.27,316.84 205.26,316.53 205.39,316.34 206.25,316.40 206.72,316.52 207.24,316.56 208.05,316.42 208.23,316.37 209.22,316.46 209.37,316.58 210.21,316.75 210.70,316.87 211.19,316.88 212.03,316.37 212.18,316.38 213.17,316.14 213.35,315.99 214.16,316.10 214.68,316.39 215.15,316.07 216.01,316.12 216.14,316.04 217.13,316.62 217.34,316.73 218.12,317.01 218.66,316.93 219.11,316.67 219.99,316.46 220.10,316.62 221.09,316.63 221.32,316.95 222.08,316.77 222.65,316.36 223.07,316.20 223.97,316.57 224.06,316.79 225.05,316.10 225.30,316.17 226.04,316.14 226.63,315.98 227.03,315.94 227.95,315.97 228.02,316.04 229.01,316.54 229.28,316.57 230.00,316.80 230.61,316.93 230.99,316.63 231.94,316.42 231.98,316.51 232.97,316.84 233.26,316.88 233.96,316.54 234.59,316.49 234.95,316.76 235.92,316.90 235.94,316.96 236.93,316.48 237.25,316.36 237.92,316.38 238.57,316.41 238.91,316.60 239.90,316.51 239.90,316.38" fill="none" stroke="#ee7f88" stroke-width="0.8" stroke-opacity="0.9" stroke-linejoin="round"/>
<polyline points="181.50,316.56 181.50,316.36 182.49,316.98 182.83,316.95 183.48,316.94 184.15,317.03 184.47,317.02 185.46,316.53 185.48,316.34 186.45,316.77 186.81,316.91 187.44,316.97 188.14,316.96 188.43,317.01 189.42,316.65 189.46,316.58 190.41,316.57 190.79,316.80 191.40,316.80 192.12,316.41 192.39,316.66 193.38,317.08 193.45,316.88 194.37,316.65 194.77,316.36 195.36,316.76 196.10,316.82 196.35,316.55 197.34,316.72 197.43,316.62 198.33,316.21 198.75,316.38 199.32,316.64 200.08,316.56 200.31,316.33 201.30,316.40 201.41,316.39 202.29,316.40 202.74,316.54 203.28,316.65 204.06,317.01 204.27,317.03 205.26,316.61 205.39,316.42 206.25,316.46 206.72,316.63 207.24,316.88 208.05,316.82 208.23,317.07 209.22,316.77 209.37,316.91 210.21,316.55 210.70,316.44 211.19,316.63 212.03,316.63 212.18,316.59 213.17,316.21 213.35,316.38 214.16,316.56 214.68,316.50 215.15,316.64 216.01,316.36 216.14,316.43 217.13,316.76 217.34,316.64 218.12,316.65 218.66,316.55 219.11,316.80 219.99,316.61 220.10,316.50 221.09,316.67 221.32,316.86 222.08,316.64 222.65,316.37 223.07,316.57 223.97,316.82 224.06,316.92 225.05,316.33 225.30,316.49 226.04,316.23 226.63,316.37 227.03,316.35 227.95,316.58 228.02,316.76 229.01,317.03 229.28,316.94 230.00,316.55 230.61,316.46 230.99,316.65 231.94,316.57 231.98,316.49 232.97,316.88 233.26,316.91 233.96,317.19 234.59,317.01 234.95,317.06 235.92,316.67 235.94,316.47 236.93,317.02 237.25,317.02 237.92,316.61 238.57,316.39 238.91,316.33 239.90,316.74 239.90,316.69" fill="none" stroke="#5454bf" stroke-width="0.8" stroke-opacity="0.8" stroke-linejoin="round"/>
<text x="38.70" y="290.40" font-size="6.2" text-anchor="end" fill="#222" >0.4</text>
<text x="38.70" y="304.80" font-size="6.2" text-anchor="end" fill="#222" >0.2</text>
<text x="38.70" y="319.20" font-size="6.2" text-anchor="end" fill="#222" >0.0</text>
<text x="41.20" y="324.80" font-size="6.2" text-anchor="start" fill="#222" >-8,200</text>
<text x="85.50" y="324.80" font-size="6.2" text-anchor="middle" fill="#222" >0</text>
<text x="105.50" y="324.80" font-size="6.2" text-anchor="end" fill="#222" >3,000</text>
<text x="111.70" y="324.80" font-size="6.2" text-anchor="start" fill="#222" >-8,200</text>
<text x="156.00" y="324.80" font-size="6.2" text-anchor="middle" fill="#222" >0</text>
<text x="176.00" y="324.80" font-size="6.2" text-anchor="end" fill="#222" >3,000</text>
<text x="182.20" y="324.80" font-size="6.2" text-anchor="start" fill="#222" >-8,200</text>
<text x="226.50" y="324.80" font-size="6.2" text-anchor="middle" fill="#222" >0</text>
<text x="246.50" y="324.80" font-size="6.2" text-anchor="end" fill="#222" >3,000</text>
<rect x="266.10" y="223.80" width="248.70" height="123.30" fill="none" stroke="#8a8a8a" stroke-width="1"/>
<rect x="372.00" y="221.80" width="63.00" height="4.00" fill="#fff" stroke="none" stroke-width="0.6"/>
<text x="403.50" y="226.20" font-size="7.4" text-anchor="middle" font-weight="bold" fill="#111" >Lost H3K27me3</text>
<line x1="279.20" y1="237.45" x2="279.20" y2="243.05" stroke="#333" stroke-width="0.8"/>
<polygon points="279.20,233.65 277.40,237.75 281.00,237.75" fill="#000"/>
<text x="0" y="0" font-size="7.4" text-anchor="middle" fill="#222" transform="translate(281.20,281.60) rotate(-90)">Average peak number</text>
<line x1="304.60" y1="335.60" x2="374.70" y2="335.60" stroke="#555" stroke-width="0.9"/>
<text x="402.80" y="338.60" font-size="7.4" text-anchor="middle" fill="#111" >Distance to TSS</text>
<line x1="431.00" y1="335.60" x2="499.20" y2="335.60" stroke="#555" stroke-width="0.9"/>
<polygon points="502.50,335.60 498.40,333.40 498.40,337.80" fill="#000"/>
<rect x="303.70" y="234.20" width="58.40" height="36.20" fill="#fff" stroke="#c9c9c9" stroke-width="0.8"/>
<text x="306.10" y="241.80" font-size="6.3" text-anchor="start" fill="#222" >H3K4me3</text>
<polyline points="303.70,270.15 304.44,270.10 304.69,270.24 305.68,270.24 306.67,270.19 307.66,269.94 308.65,270.17 309.64,270.10 310.63,269.94 311.62,270.00 312.61,269.80 313.60,270.00 314.59,270.02 315.58,269.92 316.57,270.09 317.56,269.75 318.55,269.99 319.54,269.98 320.53,269.82 321.52,270.07 322.51,269.81 323.50,269.71 324.49,269.94 325.48,269.64 326.47,269.83 327.46,269.70 328.45,269.83 329.44,269.85 330.43,269.91 331.42,270.02 332.41,269.91 333.39,269.52 334.38,269.73 335.37,269.75 336.36,269.53 336.63,269.72 337.35,269.48 338.34,269.02 339.33,269.07 340.32,268.88 340.42,268.71 341.31,267.75 342.30,267.40 343.29,266.21 343.58,266.17 344.28,265.04 344.84,264.26 345.27,264.56 346.26,266.07 346.73,267.06 347.25,266.71 348.24,266.65 348.63,266.17 349.23,265.69 350.22,264.05 350.52,263.63 351.21,264.26 352.20,266.03 353.05,266.80 353.19,266.92 354.18,267.62 355.17,267.98 356.16,268.64 356.83,268.71 357.15,268.87 358.14,269.01 359.13,269.41 360.12,269.35 361.11,269.95 362.10,270.11 362.10,269.97" fill="none" stroke="#cdcdcd" stroke-width="0.8" stroke-opacity="0.85" stroke-linejoin="round"/>
<polyline points="303.70,270.32 304.44,270.18 304.69,270.02 305.68,270.16 306.67,269.88 307.66,269.83 308.65,269.87 309.64,269.82 310.63,270.00 311.62,269.53 312.61,269.50 312.64,269.65 313.60,269.71 314.59,269.85 315.58,269.66 316.57,269.54 317.56,269.46 318.55,269.74 319.54,269.70 320.53,269.72 321.52,269.64 322.51,269.74 323.50,269.40 324.49,269.71 325.27,269.57 325.48,269.55 326.47,269.80 327.46,269.48 328.45,269.81 329.44,269.84 330.43,269.63 331.42,269.46 332.41,269.61 333.39,269.57 334.38,269.72 335.37,269.48 336.36,269.86 336.63,269.73 337.35,269.68 338.34,269.00 339.16,268.71 339.33,268.57 340.32,268.02 341.31,267.36 341.68,266.83 342.30,265.90 343.29,264.76 343.58,264.18 344.28,262.66 344.84,260.93 345.27,262.41 346.10,266.40 346.26,266.26 347.25,267.79 347.36,267.70 348.24,265.96 348.63,264.71 349.23,263.17 350.22,261.19 350.52,260.50 351.21,261.22 351.78,262.21 352.20,263.76 353.05,265.82 353.19,265.66 354.18,266.66 354.94,267.47 355.17,267.38 356.16,268.44 356.83,268.58 357.15,268.50 358.14,268.15 358.73,268.23 359.13,268.66 360.12,268.77 360.62,269.09 361.11,269.29 362.10,269.75 362.10,269.72" fill="none" stroke="#ee7f88" stroke-width="0.8" stroke-opacity="0.9" stroke-linejoin="round"/>
<polyline points="303.70,269.85 304.44,269.78 304.69,269.62 305.68,269.83 306.67,269.96 307.66,269.74 308.65,269.61 309.64,269.62 310.63,269.90 311.62,269.67 312.61,269.81 312.64,269.66 313.60,269.90 314.59,269.46 315.58,269.62 316.57,269.80 317.56,269.62 318.55,269.63 319.54,270.03 320.53,269.87 321.52,269.93 322.51,270.07 323.50,269.76 324.49,269.72 325.27,269.91 325.48,269.91 326.47,269.74 327.46,269.86 328.45,269.92 329.44,269.83 330.43,269.70 331.42,269.95 332.41,269.82 333.39,269.99 334.38,269.78 335.37,269.69 336.36,269.82 336.63,269.77 337.35,269.62 338.34,268.75 339.16,268.56 339.33,268.28 340.32,267.51 341.31,267.19 341.68,266.70 342.30,265.54 343.29,264.57 343.58,264.19 344.28,262.77 344.84,261.17 345.27,263.04 346.10,266.12 346.26,266.56 347.25,267.09 347.36,267.39 348.24,265.33 348.63,264.86 349.23,263.18 350.22,261.08 350.52,260.60 351.21,261.56 351.78,262.39 352.20,263.55 353.05,265.58 353.19,265.60 354.18,266.94 354.94,267.34 355.17,267.74 356.16,268.07 356.83,268.49 357.15,268.49 358.14,267.79 358.73,267.88 359.13,268.08 360.12,269.18 360.62,269.32 361.11,269.49 362.10,270.22 362.10,270.00" fill="none" stroke="#5454bf" stroke-width="0.8" stroke-opacity="0.8" stroke-linejoin="round"/>
<rect x="374.20" y="234.20" width="58.40" height="36.20" fill="#fff" stroke="#c9c9c9" stroke-width="0.8"/>
<text x="376.60" y="241.80" font-size="6.3" text-anchor="start" fill="#222" >H3ac</text>
<polyline points="374.20,269.94 374.20,269.84 375.19,269.73 375.53,269.92 376.18,270.11 376.85,269.84 377.17,269.68 378.16,269.91 378.18,270.07 379.15,270.16 379.51,269.91 380.14,269.71 380.84,269.81 381.13,269.66 382.12,269.95 382.16,269.80 383.11,269.80 383.49,270.11 384.10,270.08 384.82,269.91 385.09,269.94 386.08,269.85 386.15,269.92 387.07,269.87 387.47,269.97 388.06,269.77 388.80,269.78 389.05,269.92 390.04,269.96 390.13,269.96 391.03,270.16 391.45,270.00 392.02,270.02 392.78,269.79 393.01,269.81 394.00,270.11 394.11,269.92 394.99,270.08 395.44,270.06 395.98,269.91 396.76,270.06 396.97,270.19 397.96,270.02 398.09,269.98 398.95,270.31 399.42,270.16 399.94,269.96 400.75,269.93 400.93,270.11 401.92,270.03 402.07,269.87 402.91,269.84 403.40,270.01 403.89,269.97 404.73,269.83 404.88,269.80 405.87,269.74 406.05,269.79 406.86,269.89 407.38,269.95 407.85,269.97 408.71,269.90 408.84,270.09 409.83,270.27 410.04,270.14 410.82,270.29 411.36,270.16 411.81,270.15 412.69,269.77 412.80,269.88 413.79,269.83 414.02,270.07 414.78,270.22 415.35,270.10 415.77,270.18 416.67,269.81 416.76,269.92 417.75,270.03 418.00,269.86 418.74,269.67 419.33,269.80 419.73,269.03 420.65,268.03 420.72,267.93 421.71,268.68 421.98,269.15 422.70,269.61 423.31,270.04 423.69,270.10 424.64,270.18 424.68,270.23 425.67,269.94 425.96,269.96 426.66,270.14 427.29,270.06 427.65,270.04 428.62,270.02 428.64,270.07 429.63,270.01 429.95,270.11 430.62,269.95 431.27,270.14 431.61,270.07 432.60,270.34 432.60,270.17" fill="none" stroke="#cdcdcd" stroke-width="0.8" stroke-opacity="0.85" stroke-linejoin="round"/>
<polyline points="374.20,270.18 374.20,269.97 375.19,269.98 375.53,270.14 376.18,269.97 376.85,270.02 377.17,270.12 378.16,269.98 378.18,269.90 379.15,269.96 379.51,270.13 380.14,269.99 380.84,270.14 381.13,270.35 382.12,270.25 382.16,270.09 383.11,269.74 383.49,269.86 384.10,270.16 384.82,270.12 385.09,270.00 386.08,269.97 386.15,269.87 387.07,269.83 387.47,269.90 388.06,269.83 388.80,270.13 389.05,270.06 390.04,270.02 390.13,269.96 391.03,270.07 391.45,270.00 392.02,269.95 392.78,270.01 393.01,269.91 394.00,269.83 394.11,269.76 394.99,270.03 395.44,270.15 395.98,270.14 396.76,270.18 396.97,270.23 397.96,269.98 398.09,269.79 398.95,269.90 399.42,270.02 399.94,270.24 400.75,270.10 400.93,270.05 401.92,269.91 402.07,270.05 402.91,269.88 403.40,270.03 403.89,270.06 404.73,269.78 404.88,269.86 405.87,269.85 406.05,270.10 406.86,270.17 407.38,270.09 407.85,269.81 408.71,269.94 408.84,270.08 409.83,269.79 410.04,269.95 410.82,270.07 411.36,269.78 411.81,269.71 412.69,269.81 412.80,269.67 413.79,269.80 414.02,269.82 414.78,269.45 415.35,269.28 415.77,268.92 416.67,268.83 416.76,268.60 417.75,269.43 418.00,269.37 418.74,269.74 419.33,270.06 419.73,268.81 420.65,265.14 420.72,265.29 421.71,266.48 421.98,266.54 422.70,268.54 423.31,269.89 423.69,269.89 424.64,270.09 424.68,270.28 425.67,270.07 425.96,269.85 426.66,270.10 427.29,269.88 427.65,269.79 428.62,270.10 428.64,270.22 429.63,270.16 429.95,269.91 430.62,269.95 431.27,270.09 431.61,270.01 432.60,270.17 432.60,270.11" fill="none" stroke="#ee7f88" stroke-width="0.8" stroke-opacity="0.9" stroke-linejoin="round"/>
<polyline points="374.20,270.15 374.20,269.98 375.19,270.18 375.53,270.10 376.18,269.94 376.85,270.06 377.17,269.78 378.16,269.90 378.18,269.80 379.15,269.80 379.51,269.98 380.14,270.01 380.84,269.88 381.13,270.10 382.12,270.21 382.16,270.14 383.11,269.90 383.49,269.97 384.10,270.07 384.82,269.83 385.09,269.78 386.08,270.03 386.15,269.96 387.07,270.00 387.47,269.78 388.06,269.83 388.80,269.81 389.05,269.91 390.04,270.03 390.13,270.03 391.03,269.96 391.45,270.19 392.02,269.85 392.78,269.87 393.01,270.04 394.00,269.88 394.11,270.13 394.99,270.11 395.44,270.18 395.98,269.84 396.76,269.88 396.97,269.72 397.96,269.82 398.09,269.83 398.95,269.95 399.42,269.83 399.94,269.60 400.75,269.78 400.93,269.58 401.92,270.00 402.07,270.10 402.91,270.31 403.40,270.15 403.89,270.00 404.73,270.14 404.88,269.97 405.87,269.64 406.05,269.77 406.86,269.77 407.38,270.14 407.85,269.91 408.71,270.12 408.84,270.01 409.83,270.22 410.04,270.18 410.82,270.16 411.36,270.17 411.81,270.16 412.69,270.16 412.80,270.01 413.79,269.86 414.02,269.87 414.78,269.48 415.35,269.46 415.77,269.39 416.67,269.25 416.76,269.22 417.75,269.20 418.00,269.48 418.74,269.64 419.33,270.02 419.73,268.58 420.65,266.05 420.72,265.98 421.71,267.24 421.98,267.25 422.70,268.74 423.31,269.93 423.69,270.03 424.64,269.94 424.68,270.05 425.67,270.06 425.96,269.86 426.66,270.09 427.29,269.94 427.65,269.99 428.62,270.09 428.64,269.96 429.63,269.88 429.95,270.05 430.62,269.85 431.27,270.08 431.61,270.03 432.60,270.25 432.60,270.02" fill="none" stroke="#5454bf" stroke-width="0.8" stroke-opacity="0.8" stroke-linejoin="round"/>
<rect x="444.70" y="234.20" width="58.40" height="36.20" fill="#fff" stroke="#c9c9c9" stroke-width="0.8"/>
<text x="447.10" y="241.80" font-size="6.3" text-anchor="start" fill="#222" >H3K79me2</text>
<polyline points="444.70,270.39 444.70,270.17 445.69,269.79 446.03,269.89 446.68,269.90 447.35,270.13 447.67,270.32 448.66,269.97 448.68,269.99 449.65,270.05 450.01,269.90 450.64,269.69 451.34,269.85 451.63,269.71 452.62,270.08 452.66,269.99 453.61,269.93 453.99,269.97 454.60,270.07 455.32,270.18 455.59,270.25 456.58,270.04 456.65,270.00 457.57,270.07 457.97,270.03 458.56,269.95 459.30,269.82 459.55,269.63 460.54,269.84 460.63,269.95 461.53,270.11 461.95,269.87 462.52,269.99 463.28,270.00 463.51,269.80 464.50,269.98 464.61,270.11 465.49,269.87 465.94,269.82 466.48,269.76 467.26,269.84 467.47,269.78 468.46,270.17 468.59,270.03 469.45,270.15 469.92,270.15 470.44,270.18 471.25,269.97 471.43,270.12 472.42,269.89 472.57,269.98 473.41,270.12 473.90,269.86 474.39,270.04 475.23,269.93 475.38,269.84 476.37,269.78 476.55,269.97 477.36,270.05 477.88,269.94 478.35,269.80 479.21,270.03 479.34,269.88 480.33,270.31 480.54,270.17 481.32,269.97 481.86,270.16 482.31,270.19 483.19,269.79 483.30,269.80 484.29,270.02 484.52,269.83 485.28,270.16 485.85,270.06 486.27,269.90 487.17,269.81 487.26,269.65 488.25,270.03 488.50,269.85 489.24,268.41 489.83,267.11 490.23,266.06 491.15,263.89 491.22,264.08 492.21,268.21 492.48,269.06 493.20,269.30 493.81,269.69 494.19,269.32 495.14,267.72 495.18,267.41 496.17,266.50 496.46,266.30 497.16,267.83 497.79,269.40 498.15,269.12 499.12,269.16 499.14,269.23 500.13,266.33 500.45,265.19 501.12,266.38 501.77,267.69 502.11,268.02 503.10,269.87 503.10,269.66" fill="none" stroke="#cdcdcd" stroke-width="0.8" stroke-opacity="0.85" stroke-linejoin="round"/>
<polyline points="444.70,270.02 444.70,269.87 445.69,270.21 446.03,270.09 446.68,269.89 447.35,270.12 447.67,270.04 448.66,269.85 448.68,269.80 449.65,269.85 450.01,269.94 450.64,270.08 451.34,269.89 451.63,270.05 452.62,269.99 452.66,269.95 453.61,270.13 453.99,270.02 454.60,269.87 455.32,269.88 455.59,269.93 456.58,269.99 456.65,269.94 457.57,269.99 457.97,269.85 458.56,270.01 459.30,269.91 459.55,269.79 460.54,269.64 460.63,269.83 461.53,270.02 461.95,270.00 462.52,269.91 463.28,270.12 463.51,270.21 464.50,270.00 464.61,270.12 465.49,270.09 465.94,269.88 466.48,269.94 467.26,270.12 467.47,270.13 468.46,269.75 468.59,269.91 469.45,269.79 469.92,269.92 470.44,270.20 471.25,270.16 471.43,270.31 472.42,269.91 472.57,269.85 473.41,270.19 473.90,270.17 474.39,270.16 475.23,269.82 475.38,269.60 476.37,269.61 476.55,269.83 477.36,270.22 477.88,270.10 478.35,270.24 479.21,269.88 479.34,269.82 480.33,269.66 480.54,269.88 481.32,269.85 481.86,270.13 482.31,269.96 483.19,269.90 483.30,269.81 484.29,270.10 484.52,270.13 485.28,269.95 485.85,269.80 486.27,269.66 487.17,269.89 487.26,270.07 488.25,269.64 488.50,269.69 489.24,268.71 489.83,268.14 490.23,267.72 491.15,266.10 491.22,266.09 492.21,268.86 492.48,269.34 493.20,269.39 493.81,269.86 494.19,269.38 495.14,268.66 495.18,268.63 496.17,267.50 496.46,267.24 497.16,268.16 497.79,269.48 498.15,269.57 499.12,269.57 499.14,269.67 500.13,267.37 500.45,266.83 501.12,267.30 501.77,268.22 502.11,268.84 503.10,269.95 503.10,269.82" fill="none" stroke="#ee7f88" stroke-width="0.8" stroke-opacity="0.9" stroke-linejoin="round"/>
<polyline points="444.70,269.92 444.70,269.91 445.69,270.03 446.03,270.18 446.68,270.07 447.35,270.07 447.67,269.98 448.66,269.90 448.68,270.09 449.65,269.81 450.01,269.87 450.64,270.05 451.34,269.90 451.63,270.01 452.62,269.83 452.66,269.81 453.61,270.10 453.99,270.15 454.60,269.87 455.32,270.01 455.59,269.93 456.58,270.18 456.65,270.17 457.57,270.19 457.97,270.09 458.56,270.17 459.30,269.97 459.55,269.96 460.54,269.96 460.63,270.18 461.53,270.28 461.95,270.10 462.52,270.04 463.28,269.91 463.51,269.99 464.50,269.90 464.61,269.95 465.49,270.16 465.94,270.09 466.48,270.23 467.26,269.94 467.47,269.84 468.46,269.94 468.59,269.84 469.45,269.99 469.92,270.18 470.44,269.86 471.25,269.84 471.43,269.81 472.42,269.69 472.57,269.89 473.41,269.84 473.90,270.04 474.39,270.28 475.23,270.12 475.38,270.20 476.37,269.75 476.55,269.78 477.36,269.95 477.88,270.04 478.35,270.31 479.21,270.15 479.34,270.00 480.33,270.08 480.54,270.15 481.32,269.99 481.86,269.83 482.31,269.85 483.19,269.93 483.30,270.08 484.29,269.83 484.52,269.84 485.28,270.03 485.85,269.88 486.27,269.82 487.17,269.96 487.26,269.73 488.25,269.90 488.50,269.72 489.24,269.26 489.83,268.68 490.23,268.22 491.15,267.32 491.22,267.20 492.21,269.18 492.48,269.44 493.20,269.73 493.81,269.87 494.19,269.49 495.14,268.73 495.18,268.88 496.17,268.42 496.46,268.02 497.16,268.73 497.79,269.63 498.15,269.61 499.12,269.77 499.14,269.70 500.13,267.98 500.45,267.45 501.12,268.32 501.77,268.72 502.11,269.08 503.10,270.11 503.10,270.10" fill="none" stroke="#5454bf" stroke-width="0.8" stroke-opacity="0.8" stroke-linejoin="round"/>
<text x="301.90" y="243.40" font-size="6.2" text-anchor="end" fill="#222" >0.4</text>
<text x="301.90" y="257.80" font-size="6.2" text-anchor="end" fill="#222" >0.2</text>
<text x="301.90" y="272.20" font-size="6.2" text-anchor="end" fill="#222" >0.0</text>
<rect x="303.70" y="281.40" width="58.40" height="35.90" fill="#fff" stroke="#c9c9c9" stroke-width="0.8"/>
<text x="306.10" y="289.00" font-size="6.3" text-anchor="start" fill="#222" >H3K27me3</text>
<polyline points="303.70,316.83 303.70,316.82 304.69,316.66 305.03,316.71 305.68,316.74 306.35,316.89 306.67,316.77 307.66,316.59 307.68,316.78 308.65,316.59 309.01,316.69 309.64,316.93 310.34,316.87 310.63,316.98 311.62,316.80 311.66,316.77 312.61,316.83 312.99,316.78 313.60,316.53 314.32,316.72 314.59,316.68 315.58,317.07 315.65,317.07 316.57,317.10 316.97,317.01 317.56,316.99 318.30,316.66 318.55,316.63 319.54,316.56 319.63,316.77 320.53,317.07 320.95,316.98 321.52,316.91 322.28,316.77 322.51,316.89 323.50,316.94 323.61,317.01 324.49,317.08 324.94,316.93 325.48,317.13 326.26,316.90 326.47,316.83 327.46,317.07 327.59,316.99 328.45,316.95 328.92,317.03 329.44,316.78 330.25,316.87 330.43,316.82 331.42,316.62 331.57,316.81 332.41,316.76 332.90,316.95 333.39,317.10 334.23,316.81 334.38,316.91 335.37,316.61 335.55,316.67 336.36,316.92 336.88,317.06 337.35,317.26 338.21,316.97 338.34,316.83 339.33,316.97 339.54,317.05 340.32,316.93 340.86,316.80 341.31,316.83 342.19,316.91 342.30,317.07 343.29,316.88 343.52,316.90 344.28,317.12 344.85,316.98 345.27,316.83 346.17,316.76 346.26,316.54 347.25,316.90 347.50,316.76 348.24,316.95 348.83,316.90 349.23,316.81 350.15,316.74 350.22,316.57 351.21,317.09 351.48,316.99 352.20,317.01 352.81,316.94 353.19,316.82 354.14,316.68 354.18,316.85 355.17,317.12 355.46,316.99 356.16,316.89 356.79,317.03 357.15,316.98 358.12,317.07 358.14,317.03 359.13,316.84 359.45,316.80 360.12,316.96 360.77,316.74 361.11,316.83 362.10,317.07 362.10,317.06" fill="none" stroke="#cdcdcd" stroke-width="0.8" stroke-opacity="0.85" stroke-linejoin="round"/>
<polyline points="303.70,316.88 303.70,316.67 304.69,316.82 305.03,316.73 305.68,316.67 306.35,316.92 306.67,316.96 307.66,316.56 307.68,316.55 308.65,316.90 309.01,316.88 309.64,316.78 310.34,316.70 310.63,316.86 311.62,316.54 311.66,316.49 312.61,316.79 312.99,316.79 313.60,316.87 314.32,316.47 314.59,316.34 315.58,316.39 315.65,316.60 316.57,316.84 316.97,316.70 317.56,316.62 318.30,316.66 318.55,316.65 319.54,316.72 319.63,316.68 320.53,316.72 320.95,316.80 321.52,316.55 322.28,316.38 322.51,316.52 323.50,316.57 323.61,316.51 324.49,316.08 324.94,315.86 325.48,315.59 326.26,315.84 326.47,315.73 327.46,316.37 327.59,316.58 328.45,316.70 328.92,316.74 329.44,316.53 330.25,316.72 330.43,316.47 331.42,316.38 331.57,316.55 332.41,316.93 332.90,316.92 333.39,316.86 334.23,316.67 334.38,316.81 335.37,316.81 335.55,316.81 336.36,316.49 336.88,316.57 337.35,316.54 338.21,316.49 338.34,316.58 339.33,316.73 339.54,316.58 340.32,316.95 340.86,316.91 341.31,316.64 342.19,316.58 342.30,316.38 343.29,316.55 343.52,316.77 344.28,316.88 344.85,316.54 345.27,316.72 346.17,316.75 346.26,316.91 347.25,316.57 347.50,316.50 348.24,316.62 348.83,316.46 349.23,316.49 350.15,316.55 350.22,316.57 351.21,316.48 351.48,316.55 352.20,316.54 352.81,316.55 353.19,316.59 354.14,316.68 354.18,316.91 355.17,316.65 355.46,316.92 356.16,316.71 356.79,316.46 357.15,316.35 358.12,316.75 358.14,316.84 359.13,317.14 359.45,317.01 360.12,316.65 360.77,316.77 361.11,316.78 362.10,316.94 362.10,316.78" fill="none" stroke="#ee7f88" stroke-width="0.8" stroke-opacity="0.9" stroke-linejoin="round"/>
<polyline points="303.70,316.46 303.70,316.30 304.69,316.99 305.03,316.99 305.68,316.59 306.35,316.60 306.67,316.64 307.66,316.79 307.68,316.74 308.65,316.49 309.01,316.48 309.64,316.79 310.34,316.78 310.63,316.87 311.62,316.54 311.66,316.49 312.61,316.93 312.99,316.93 313.60,316.63 314.32,316.45 314.59,316.56 315.58,316.82 315.65,316.78 316.57,316.98 316.97,316.91 317.56,317.00 318.30,316.82 318.55,316.69 319.54,316.47 319.63,316.66 320.53,316.96 320.95,317.00 321.52,316.77 322.28,316.80 322.51,316.92 323.50,316.87 323.61,317.01 324.49,317.11 324.94,316.98 325.48,316.92 326.26,316.92 326.47,316.96 327.46,316.71 327.59,316.89 328.45,316.74 328.92,316.86 329.44,316.94 330.25,316.57 330.43,316.80 331.42,316.77 331.57,316.78 332.41,316.76 332.90,316.53 333.39,316.65 334.23,316.51 334.38,316.28 335.37,316.29 335.55,316.51 336.36,316.73 336.88,316.48 337.35,316.79 338.21,316.69 338.34,316.62 339.33,316.43 339.54,316.63 340.32,316.37 340.86,316.52 341.31,316.49 342.19,316.71 342.30,316.61 343.29,316.90 343.52,316.94 344.28,316.82 344.85,316.72 345.27,316.55 346.17,316.71 346.26,316.92 347.25,316.79 347.50,316.91 348.24,316.84 348.83,316.96 349.23,317.11 350.15,316.91 350.22,316.77 351.21,316.84 351.48,316.62 352.20,316.36 352.81,316.55 353.19,316.45 354.14,316.64 354.18,316.67 355.17,316.70 355.46,316.77 356.16,316.67 356.79,317.00 357.15,317.07 358.12,317.01 358.14,317.15 359.13,316.64 359.45,316.64 360.12,316.49 360.77,316.72 361.11,316.89 362.10,316.76 362.10,316.63" fill="none" stroke="#5454bf" stroke-width="0.8" stroke-opacity="0.8" stroke-linejoin="round"/>
<rect x="374.20" y="281.40" width="58.40" height="35.90" fill="#fff" stroke="#c9c9c9" stroke-width="0.8"/>
<text x="376.60" y="289.00" font-size="6.3" text-anchor="start" fill="#222" >H3K9me3</text>
<polyline points="374.20,316.90 374.20,316.70 375.19,317.10 375.53,316.96 376.18,316.70 376.85,316.70 377.17,316.72 378.16,316.65 378.18,316.88 379.15,316.98 379.51,317.05 380.14,316.95 380.84,316.77 381.13,317.03 382.12,317.08 382.16,317.05 383.11,316.80 383.49,317.00 384.10,316.80 384.82,317.06 385.09,317.12 386.08,316.68 386.15,316.82 387.07,316.89 387.47,316.73 388.06,316.73 388.80,316.83 389.05,316.90 390.04,317.10 390.13,316.99 391.03,316.85 391.45,316.73 392.02,316.61 392.78,316.72 393.01,316.67 394.00,317.00 394.11,316.95 394.99,317.14 395.44,316.97 395.98,317.13 396.76,316.80 396.97,316.58 397.96,316.68 398.09,316.67 398.95,316.69 399.42,316.70 399.94,316.74 400.75,316.71 400.93,316.91 401.92,316.90 402.07,316.78 402.91,316.69 403.40,316.99 403.89,316.98 404.73,316.83 404.88,316.82 405.87,316.69 406.05,316.90 406.86,316.80 407.38,316.81 407.85,316.99 408.71,316.88 408.84,317.10 409.83,317.14 410.04,317.00 410.82,317.01 411.36,316.70 411.81,316.98 412.69,317.07 412.80,317.22 413.79,317.04 414.02,316.94 414.78,316.96 415.35,316.95 415.77,316.91 416.67,316.68 416.76,316.76 417.75,316.96 418.00,317.04 418.74,317.06 419.33,316.84 419.73,316.57 420.65,316.69 420.72,316.82 421.71,316.73 421.98,316.83 422.70,316.81 423.31,316.69 423.69,316.74 424.64,316.92 424.68,317.15 425.67,316.67 425.96,316.90 426.66,316.74 427.29,316.93 427.65,317.15 428.62,316.93 428.64,317.04 429.63,316.74 429.95,316.94 430.62,316.87 431.27,317.06 431.61,316.93 432.60,316.67 432.60,316.51" fill="none" stroke="#cdcdcd" stroke-width="0.8" stroke-opacity="0.85" stroke-linejoin="round"/>
<polyline points="374.20,316.86 374.20,316.74 375.19,316.87 375.53,316.69 376.18,316.65 376.85,316.51 377.17,316.76 378.16,316.90 378.18,316.86 379.15,317.04 379.51,316.86 380.14,316.72 380.84,316.59 381.13,316.59 382.12,316.81 382.16,316.74 383.11,316.66 383.49,316.83 384.10,317.04 384.82,316.80 385.09,316.58 386.08,316.88 386.15,316.85 387.07,317.09 387.47,316.97 388.06,316.88 388.80,316.64 389.05,316.64 390.04,316.71 390.13,316.45 391.03,316.45 391.45,316.60 392.02,316.55 392.78,316.64 393.01,316.63 394.00,316.76 394.11,316.85 394.99,316.61 395.44,316.78 395.98,316.87 396.76,316.98 396.97,316.90 397.96,316.40 398.09,316.57 398.95,316.58 399.42,316.88 399.94,317.03 400.75,316.88 400.93,317.00 401.92,316.25 402.07,316.39 402.91,316.62 403.40,316.85 403.89,316.91 404.73,316.39 404.88,316.57 405.87,316.69 406.05,316.65 406.86,316.63 407.38,316.55 407.85,316.70 408.71,316.64 408.84,316.77 409.83,316.89 410.04,316.96 410.82,316.53 411.36,316.58 411.81,316.59 412.69,316.90 412.80,316.69 413.79,317.05 414.02,316.80 414.78,317.01 415.35,316.99 415.77,316.83 416.67,317.05 416.76,316.99 417.75,316.95 418.00,316.83 418.74,317.08 419.33,317.08 419.73,316.83 420.65,316.81 420.72,316.56 421.71,316.48 421.98,316.48 422.70,316.30 423.31,316.38 423.69,316.38 424.64,316.79 424.68,316.67 425.67,316.99 425.96,317.01 426.66,316.77 427.29,316.84 427.65,316.83 428.62,317.04 428.64,316.84 429.63,316.77 429.95,316.93 430.62,316.89 431.27,316.65 431.61,316.64 432.60,316.70 432.60,316.65" fill="none" stroke="#ee7f88" stroke-width="0.8" stroke-opacity="0.9" stroke-linejoin="round"/>
<polyline points="374.20,316.43 374.20,316.32 375.19,316.98 375.53,316.96 376.18,316.88 376.85,316.40 377.17,316.59 378.16,316.78 378.18,316.92 379.15,316.89 379.51,316.76 380.14,316.42 380.84,316.45 381.13,316.48 382.12,316.82 382.16,316.83 383.11,316.71 383.49,316.73 384.10,316.81 384.82,316.97 385.09,316.85 386.08,316.28 386.15,316.40 387.07,316.30 387.47,316.39 388.06,316.64 388.80,316.97 389.05,317.20 390.04,317.13 390.13,317.00 391.03,317.01 391.45,316.75 392.02,316.56 392.78,316.72 393.01,316.47 394.00,316.61 394.11,316.54 394.99,316.62 395.44,316.84 395.98,316.98 396.76,316.67 396.97,316.55 397.96,317.15 398.09,316.97 398.95,316.80 399.42,316.94 399.94,316.91 400.75,317.03 400.93,316.81 401.92,316.61 402.07,316.70 402.91,316.71 403.40,316.69 403.89,316.87 404.73,316.65 404.88,316.77 405.87,316.28 406.05,316.42 406.86,316.61 407.38,316.87 407.85,317.10 408.71,316.84 408.84,316.71 409.83,316.97 410.04,316.76 410.82,316.80 411.36,316.42 411.81,316.37 412.69,316.87 412.80,316.67 413.79,316.94 414.02,316.88 414.78,316.68 415.35,316.78 415.77,316.86 416.67,316.60 416.76,316.77 417.75,316.70 418.00,316.89 418.74,317.04 419.33,316.96 419.73,317.04 420.65,316.57 420.72,316.39 421.71,316.65 421.98,316.68 422.70,316.55 423.31,316.68 423.69,316.62 424.64,317.08 424.68,317.00 425.67,317.13 425.96,316.91 426.66,317.12 427.29,317.01 427.65,316.79 428.62,316.83 428.64,316.81 429.63,316.68 429.95,316.44 430.62,316.29 431.27,316.38 431.61,316.23 432.60,316.65 432.60,316.49" fill="none" stroke="#5454bf" stroke-width="0.8" stroke-opacity="0.8" stroke-linejoin="round"/>
<rect x="444.70" y="281.40" width="58.40" height="35.90" fill="#fff" stroke="#c9c9c9" stroke-width="0.8"/>
<text x="447.10" y="289.00" font-size="6.3" text-anchor="start" fill="#222" >PolII</text>
<polyline points="444.70,316.97 444.70,316.93 445.69,316.86 446.03,316.87 446.68,316.88 447.35,316.85 447.67,316.79 448.66,316.90 448.68,316.89 449.65,316.86 450.01,316.84 450.64,317.02 451.34,316.88 451.63,317.05 452.62,316.81 452.66,316.87 453.61,317.16 453.99,317.00 454.60,316.94 455.32,317.04 455.59,317.01 456.58,317.05 456.65,316.98 457.57,316.70 457.97,316.75 458.56,316.95 459.30,317.08 459.55,317.09 460.54,316.81 460.63,316.94 461.53,316.93 461.95,316.91 462.52,316.88 463.28,316.85 463.51,317.10 464.50,316.84 464.61,316.90 465.49,316.88 465.94,316.72 466.48,316.87 467.26,316.69 467.47,316.65 468.46,316.88 468.59,316.84 469.45,317.07 469.92,317.00 470.44,316.93 471.25,316.71 471.43,316.84 472.42,316.77 472.57,316.72 473.41,316.71 473.90,316.89 474.39,317.06 475.23,316.75 475.38,316.56 476.37,316.64 476.55,316.71 477.36,316.63 477.88,316.68 478.35,316.96 479.21,316.99 479.34,316.93 480.33,317.22 480.54,316.99 481.32,316.81 481.86,316.75 482.31,316.89 483.19,316.97 483.30,316.77 484.29,317.16 484.52,316.97 485.28,317.03 485.85,317.07 486.27,316.93 487.17,316.76 487.26,316.56 488.25,316.97 488.50,316.99 489.24,317.04 489.83,317.01 490.23,316.92 491.15,316.75 491.22,316.59 492.21,316.33 492.48,316.36 493.20,315.60 493.81,314.81 494.19,314.84 495.14,315.32 495.18,315.35 496.17,315.88 496.46,316.18 497.16,316.61 497.79,316.99 498.15,317.16 499.12,317.03 499.14,317.17 500.13,316.71 500.45,316.89 501.12,317.05 501.77,316.76 502.11,316.75 503.10,316.88 503.10,316.75" fill="none" stroke="#cdcdcd" stroke-width="0.8" stroke-opacity="0.85" stroke-linejoin="round"/>
<polyline points="444.70,316.83 444.70,316.61 445.69,316.68 446.03,316.66 446.68,316.99 447.35,317.01 447.67,316.66 448.66,316.51 448.68,316.46 449.65,316.38 450.01,316.55 450.64,316.73 451.34,316.45 451.63,316.70 452.62,316.63 452.66,316.87 453.61,316.74 453.99,316.90 454.60,317.17 455.32,316.98 455.59,316.98 456.58,316.95 456.65,316.91 457.57,317.10 457.97,317.00 458.56,317.03 459.30,316.62 459.55,316.75 460.54,316.97 460.63,316.81 461.53,316.79 461.95,316.55 462.52,316.39 463.28,316.58 463.51,316.69 464.50,316.90 464.61,316.82 465.49,316.93 465.94,316.92 466.48,317.07 467.26,316.82 467.47,316.66 468.46,316.97 468.59,317.00 469.45,316.69 469.92,316.65 470.44,316.51 471.25,316.91 471.43,317.09 472.42,316.90 472.57,316.93 473.41,316.68 473.90,316.51 474.39,316.48 475.23,316.77 475.38,316.68 476.37,316.54 476.55,316.48 477.36,316.65 477.88,316.46 478.35,316.51 479.21,316.64 479.34,316.52 480.33,316.62 480.54,316.87 481.32,316.93 481.86,316.93 482.31,316.91 483.19,316.88 483.30,316.71 484.29,316.66 484.52,316.59 485.28,316.63 485.85,316.58 486.27,316.29 487.17,316.05 487.26,315.82 488.25,315.53 488.50,315.59 489.24,315.60 489.83,316.01 490.23,316.35 491.15,316.57 491.22,316.54 492.21,316.56 492.48,316.28 493.20,315.31 493.81,314.93 494.19,315.13 495.14,315.12 495.18,315.14 496.17,315.93 496.46,316.29 497.16,316.50 497.79,316.67 498.15,316.52 499.12,316.07 499.14,316.07 500.13,315.35 500.45,315.18 501.12,315.85 501.77,316.63 502.11,316.60 503.10,316.97 503.10,316.96" fill="none" stroke="#ee7f88" stroke-width="0.8" stroke-opacity="0.9" stroke-linejoin="round"/>
<polyline points="444.70,316.97 444.70,316.79 445.69,316.89 446.03,316.68 446.68,316.42 447.35,316.45 447.67,316.64 448.66,316.70 448.68,316.82 449.65,316.81 450.01,316.71 450.64,316.70 451.34,316.80 451.63,316.70 452.62,316.84 452.66,316.60 453.61,316.52 453.99,316.63 454.60,316.82 455.32,316.68 455.59,316.63 456.58,316.31 456.65,316.46 457.57,316.50 457.97,316.62 458.56,316.59 459.30,316.82 459.55,316.92 460.54,316.81 460.63,316.80 461.53,316.85 461.95,316.66 462.52,316.65 463.28,316.62 463.51,316.84 464.50,316.67 464.61,316.89 465.49,316.78 465.94,316.56 466.48,316.59 467.26,316.76 467.47,316.72 468.46,316.63 468.59,316.58 469.45,316.64 469.92,316.96 470.44,316.85 471.25,316.84 471.43,316.73 472.42,317.14 472.57,317.01 473.41,317.02 473.90,316.78 474.39,317.03 475.23,316.87 475.38,316.73 476.37,316.78 476.55,316.82 477.36,317.06 477.88,316.89 478.35,316.78 479.21,316.53 479.34,316.53 480.33,316.65 480.54,316.66 481.32,316.69 481.86,316.82 482.31,316.56 483.19,316.73 483.30,316.81 484.29,316.81 484.52,316.90 485.28,316.45 485.85,316.34 486.27,315.96 487.17,315.70 487.26,315.71 488.25,315.33 488.50,315.27 489.24,315.63 489.83,316.13 490.23,316.09 491.15,316.27 491.22,316.13 492.21,316.27 492.48,316.31 493.20,315.94 493.81,315.37 494.19,315.30 495.14,315.33 495.18,315.36 496.17,316.06 496.46,316.39 497.16,316.47 497.79,316.50 498.15,316.58 499.12,316.93 499.14,316.82 500.13,317.06 500.45,316.98 501.12,316.93 501.77,316.77 502.11,317.01 503.10,317.03 503.10,316.99" fill="none" stroke="#5454bf" stroke-width="0.8" stroke-opacity="0.8" stroke-linejoin="round"/>
<text x="301.90" y="290.30" font-size="6.2" text-anchor="end" fill="#222" >0.4</text>
<text x="301.90" y="304.70" font-size="6.2" text-anchor="end" fill="#222" >0.2</text>
<text x="301.90" y="319.10" font-size="6.2" text-anchor="end" fill="#222" >0.0</text>
<text x="304.40" y="324.70" font-size="6.2" text-anchor="start" fill="#222" >-8,200</text>
<text x="348.70" y="324.70" font-size="6.2" text-anchor="middle" fill="#222" >0</text>
<text x="368.70" y="324.70" font-size="6.2" text-anchor="end" fill="#222" >3,000</text>
<text x="374.90" y="324.70" font-size="6.2" text-anchor="start" fill="#222" >-8,200</text>
<text x="419.20" y="324.70" font-size="6.2" text-anchor="middle" fill="#222" >0</text>
<text x="439.20" y="324.70" font-size="6.2" text-anchor="end" fill="#222" >3,000</text>
<text x="445.40" y="324.70" font-size="6.2" text-anchor="start" fill="#222" >-8,200</text>
<text x="489.70" y="324.70" font-size="6.2" text-anchor="middle" fill="#222" >0</text>
<text x="509.70" y="324.70" font-size="6.2" text-anchor="end" fill="#222" >3,000</text>
<rect x="2.90" y="366.00" width="249.40" height="124.10" fill="none" stroke="#8a8a8a" stroke-width="1"/>
<rect x="119.80" y="364.00" width="41.00" height="4.00" fill="#fff" stroke="none" stroke-width="0.6"/>
<text x="140.30" y="368.40" font-size="7.4" text-anchor="middle" font-weight="bold" fill="#111" >Lost both</text>
<line x1="16.00" y1="380.10" x2="16.00" y2="385.70" stroke="#333" stroke-width="0.8"/>
<polygon points="16.00,376.30 14.20,380.40 17.80,380.40" fill="#000"/>
<text x="0" y="0" font-size="7.4" text-anchor="middle" fill="#222" transform="translate(18.00,424.25) rotate(-90)">Average peak number</text>
<line x1="41.40" y1="478.40" x2="111.50" y2="478.40" stroke="#555" stroke-width="0.9"/>
<text x="139.60" y="481.40" font-size="7.4" text-anchor="middle" fill="#111" >Distance to TSS</text>
<line x1="167.80" y1="478.40" x2="236.00" y2="478.40" stroke="#555" stroke-width="0.9"/>
<polygon points="239.30,478.40 235.20,476.20 235.20,480.60" fill="#000"/>
<rect x="40.50" y="376.50" width="58.40" height="36.50" fill="#fff" stroke="#c9c9c9" stroke-width="0.8"/>
<text x="42.90" y="384.10" font-size="6.3" text-anchor="start" fill="#222" >H3K4me3</text>
<polyline points="40.50,412.46 40.50,412.39 41.49,412.39 42.00,412.51 42.48,412.44 43.47,412.47 43.49,412.61 44.46,412.81 44.99,412.70 45.45,412.68 46.44,412.43 46.49,412.50 47.43,412.28 47.99,412.37 48.42,412.29 49.41,412.49 49.48,412.60 50.40,412.66 50.98,412.42 51.39,412.62 52.38,412.93 52.48,412.77 53.37,412.82 53.98,412.56 54.36,412.69 55.35,412.80 55.47,412.70 56.34,412.45 56.97,412.58 57.33,412.53 58.32,412.74 58.47,412.53 59.31,412.36 59.97,412.42 60.30,412.42 61.29,412.55 61.46,412.56 62.28,412.43 62.96,412.42 63.27,412.57 64.26,412.83 64.46,412.65 65.25,412.63 65.96,412.73 66.24,412.76 67.23,412.79 67.45,412.59 68.22,412.30 68.95,412.48 69.21,412.59 70.19,412.34 70.45,412.49 71.18,412.56 71.95,412.77 72.17,412.57 73.16,412.68 73.44,412.68 74.15,412.83 74.94,412.68 75.14,412.59 76.13,412.49 76.44,412.59 77.12,412.46 77.94,412.42 78.11,412.62 79.10,412.57 79.43,412.67 80.09,412.50 80.93,412.77 81.08,412.74 82.07,412.32 82.43,412.40 83.06,412.33 83.93,412.42 84.05,412.45 85.04,412.43 85.42,412.46 86.03,412.79 86.92,412.77 87.02,412.62 88.01,412.75 88.42,412.68 89.00,412.77 89.92,412.71 89.99,412.91 90.98,412.49 91.41,412.40 91.97,412.56 92.91,412.73 92.96,412.94 93.95,412.63 94.41,412.73 94.94,412.77 95.91,412.69 95.93,412.58 96.92,412.65 97.40,412.45 97.91,412.41 98.90,412.70 98.90,412.59" fill="none" stroke="#cdcdcd" stroke-width="0.8" stroke-opacity="0.85" stroke-linejoin="round"/>
<polyline points="40.50,412.77 40.50,412.62 41.49,412.93 42.00,412.70 42.48,412.80 43.47,412.54 43.49,412.48 44.46,412.76 44.99,412.73 45.45,412.48 46.44,412.32 46.49,412.42 47.43,412.39 47.99,412.67 48.42,412.68 49.41,412.55 49.48,412.78 50.40,412.73 50.98,412.60 51.39,412.57 52.38,412.65 52.48,412.72 53.37,412.67 53.98,412.78 54.36,412.93 55.35,412.62 55.47,412.67 56.34,412.76 56.97,412.59 57.33,412.81 58.32,412.66 58.47,412.70 59.31,412.72 59.97,412.42 60.30,412.55 61.29,412.74 61.46,412.66 62.28,412.76 62.96,412.49 63.27,412.66 64.26,412.49 64.46,412.64 65.25,412.59 65.96,412.74 66.24,412.87 67.23,412.42 67.45,412.60 68.22,412.56 68.95,412.49 69.21,412.30 70.19,412.47 70.45,412.58 71.18,412.74 71.95,412.51 72.17,412.32 73.16,412.62 73.44,412.74 74.15,412.72 74.94,412.73 75.14,412.78 76.13,412.77 76.44,412.73 77.12,412.67 77.94,412.58 78.11,412.53 79.10,412.62 79.43,412.42 80.09,412.41 80.93,412.62 81.08,412.53 82.07,412.58 82.43,412.44 83.06,412.46 83.93,412.74 84.05,412.81 85.04,412.59 85.42,412.69 86.03,412.59 86.92,412.50 87.02,412.67 88.01,412.55 88.42,412.45 89.00,412.26 89.92,412.45 89.99,412.57 90.98,412.51 91.41,412.72 91.97,412.84 92.91,412.56 92.96,412.50 93.95,412.49 94.41,412.69 94.94,412.77 95.91,412.47 95.93,412.52 96.92,412.71 97.40,412.54 97.91,412.38 98.90,412.69 98.90,412.49" fill="none" stroke="#ee7f88" stroke-width="0.8" stroke-opacity="0.9" stroke-linejoin="round"/>
<polyline points="40.50,412.76 40.50,412.71 41.49,412.90 42.00,412.65 42.48,412.83 43.47,412.70 43.49,412.79 44.46,412.54 44.99,412.67 45.45,412.65 46.44,412.41 46.49,412.47 47.43,412.38 47.99,412.49 48.42,412.46 49.41,412.48 49.48,412.59 50.40,412.34 50.98,412.47 51.39,412.63 52.38,412.56 52.48,412.59 53.37,412.28 53.98,412.42 54.36,412.31 55.35,412.69 55.47,412.53 56.34,412.45 56.97,412.73 57.33,412.81 58.32,412.76 58.47,412.55 59.31,412.37 59.97,412.58 60.30,412.57 61.29,412.35 61.46,412.56 62.28,412.49 62.96,412.70 63.27,412.46 64.26,412.73 64.46,412.49 65.25,412.53 65.96,412.71 66.24,412.61 67.23,412.50 67.45,412.66 68.22,412.84 68.95,412.68 69.21,412.67 70.19,412.72 70.45,412.67 71.18,412.61 71.95,412.71 72.17,412.61 73.16,412.58 73.44,412.47 74.15,412.31 74.94,412.50 75.14,412.48 76.13,412.76 76.44,412.77 77.12,412.61 77.94,412.54 78.11,412.53 79.10,412.50 79.43,412.75 80.09,412.49 80.93,412.51 81.08,412.67 82.07,412.36 82.43,412.61 83.06,412.46 83.93,412.56 84.05,412.77 85.04,412.42 85.42,412.46 86.03,412.56 86.92,412.46 87.02,412.48 88.01,412.60 88.42,412.50 89.00,412.43 89.92,412.66 89.99,412.47 90.98,412.65 91.41,412.75 91.97,412.88 92.91,412.54 92.96,412.75 93.95,412.71 94.41,412.56 94.94,412.47 95.91,412.41 95.93,412.64 96.92,412.18 97.40,412.41 97.91,412.71 98.90,412.71 98.90,412.63" fill="none" stroke="#5454bf" stroke-width="0.8" stroke-opacity="0.8" stroke-linejoin="round"/>
<rect x="111.00" y="376.50" width="58.40" height="36.50" fill="#fff" stroke="#c9c9c9" stroke-width="0.8"/>
<text x="113.40" y="384.10" font-size="6.3" text-anchor="start" fill="#222" >H3ac</text>
<polyline points="111.00,412.94 111.00,412.75 111.99,412.37 112.50,412.43 112.98,412.41 113.97,412.67 113.99,412.53 114.96,412.51 115.49,412.70 115.95,412.58 116.94,412.31 116.99,412.45 117.93,412.45 118.49,412.53 118.92,412.40 119.91,412.31 119.98,412.43 120.90,412.57 121.48,412.53 121.89,412.71 122.88,412.29 122.98,412.48 123.87,412.65 124.48,412.46 124.86,412.48 125.85,412.39 125.97,412.64 126.84,412.77 127.47,412.75 127.83,412.78 128.82,412.50 128.97,412.40 129.81,412.73 130.47,412.74 130.80,412.58 131.79,412.67 131.96,412.55 132.78,412.65 133.46,412.36 133.77,412.37 134.76,412.71 134.96,412.64 135.75,412.81 136.46,412.68 136.74,412.89 137.73,412.47 137.95,412.62 138.72,412.72 139.45,412.70 139.71,412.61 140.69,412.52 140.95,412.47 141.68,412.39 142.45,412.66 142.67,412.88 143.66,412.68 143.94,412.76 144.65,412.49 145.44,412.53 145.64,412.66 146.63,412.68 146.94,412.68 147.62,412.77 148.44,412.71 148.61,412.80 149.60,412.56 149.93,412.78 150.59,412.75 151.43,412.43 151.58,412.34 152.57,412.80 152.93,412.63 153.56,412.45 154.43,412.53 154.55,412.74 155.54,412.43 155.92,412.58 156.53,412.72 157.42,412.42 157.52,412.58 158.51,412.78 158.92,412.76 159.50,412.77 160.42,412.52 160.49,412.38 161.48,412.46 161.91,412.43 162.47,412.74 163.41,412.67 163.46,412.81 164.45,412.66 164.91,412.60 165.44,412.52 166.41,412.64 166.43,412.58 167.42,412.66 167.90,412.65 168.41,412.41 169.40,412.38 169.40,412.17" fill="none" stroke="#cdcdcd" stroke-width="0.8" stroke-opacity="0.85" stroke-linejoin="round"/>
<polyline points="111.00,412.96 111.00,412.76 111.99,412.77 112.50,412.65 112.98,412.93 113.97,412.88 113.99,412.79 114.96,412.59 115.49,412.67 115.95,412.51 116.94,412.49 116.99,412.47 117.93,412.36 118.49,412.49 118.92,412.54 119.91,412.41 119.98,412.59 120.90,412.46 121.48,412.47 121.89,412.67 122.88,412.55 122.98,412.59 123.87,412.50 124.48,412.42 124.86,412.43 125.85,412.65 125.97,412.53 126.84,412.55 127.47,412.73 127.83,412.83 128.82,412.66 128.97,412.55 129.81,412.69 130.47,412.58 130.80,412.69 131.79,412.71 131.96,412.56 132.78,412.51 133.46,412.70 133.77,412.58 134.76,412.74 134.96,412.49 135.75,412.57 136.46,412.71 136.74,412.90 137.73,412.60 137.95,412.66 138.72,412.72 139.45,412.68 139.71,412.66 140.69,412.55 140.95,412.67 141.68,412.56 142.45,412.71 142.67,412.59 143.66,412.61 143.94,412.47 144.65,412.68 145.44,412.50 145.64,412.50 146.63,412.70 146.94,412.77 147.62,412.48 148.44,412.54 148.61,412.39 149.60,412.85 149.93,412.75 150.59,412.69 151.43,412.51 151.58,412.42 152.57,412.63 152.93,412.61 153.56,412.37 154.43,412.56 154.55,412.78 155.54,412.53 155.92,412.46 156.53,412.29 157.42,412.46 157.52,412.24 158.51,412.48 158.92,412.50 159.50,412.68 160.42,412.66 160.49,412.62 161.48,412.81 161.91,412.75 162.47,412.58 163.41,412.54 163.46,412.61 164.45,412.70 164.91,412.56 165.44,412.46 166.41,412.41 166.43,412.28 167.42,412.41 167.90,412.41 168.41,412.47 169.40,412.71 169.40,412.67" fill="none" stroke="#ee7f88" stroke-width="0.8" stroke-opacity="0.9" stroke-linejoin="round"/>
<polyline points="111.00,412.46 111.00,412.33 111.99,412.43 112.50,412.51 112.98,412.59 113.97,412.75 113.99,412.61 114.96,412.59 115.49,412.70 115.95,412.42 116.94,412.54 116.99,412.50 117.93,412.25 118.49,412.37 118.92,412.66 119.91,412.58 119.98,412.60 120.90,412.64 121.48,412.42 121.89,412.52 122.88,412.70 122.98,412.77 123.87,412.48 124.48,412.56 124.86,412.59 125.85,412.52 125.97,412.70 126.84,412.71 127.47,412.58 127.83,412.74 128.82,412.55 128.97,412.53 129.81,412.37 130.47,412.42 130.80,412.35 131.79,412.77 131.96,412.56 132.78,412.60 133.46,412.42 133.77,412.58 134.76,412.63 134.96,412.65 135.75,412.52 136.46,412.73 136.74,412.81 137.73,412.83 137.95,412.59 138.72,412.34 139.45,412.48 139.71,412.31 140.69,412.36 140.95,412.49 141.68,412.84 142.45,412.77 142.67,412.87 143.66,412.85 143.94,412.68 144.65,412.48 145.44,412.68 145.64,412.84 146.63,412.78 146.94,412.59 147.62,412.64 148.44,412.42 148.61,412.31 149.60,412.76 149.93,412.67 150.59,412.49 151.43,412.77 151.58,412.82 152.57,412.42 152.93,412.40 153.56,412.56 154.43,412.42 154.55,412.52 155.54,412.27 155.92,412.46 156.53,412.35 157.42,412.77 157.52,412.88 158.51,412.77 158.92,412.68 159.50,412.90 160.42,412.71 160.49,412.84 161.48,412.54 161.91,412.40 162.47,412.51 163.41,412.73 163.46,412.70 164.45,412.80 164.91,412.73 165.44,412.88 166.41,412.69 166.43,412.66 167.42,412.60 167.90,412.45 168.41,412.61 169.40,412.70 169.40,412.48" fill="none" stroke="#5454bf" stroke-width="0.8" stroke-opacity="0.8" stroke-linejoin="round"/>
<rect x="181.50" y="376.50" width="58.40" height="36.50" fill="#fff" stroke="#c9c9c9" stroke-width="0.8"/>
<text x="183.90" y="384.10" font-size="6.3" text-anchor="start" fill="#222" >H3K79me2</text>
<polyline points="181.50,412.67 181.50,412.62 182.49,412.62 183.00,412.75 183.48,412.58 184.47,412.59 184.49,412.54 185.46,412.82 185.99,412.73 186.45,412.91 187.44,412.69 187.49,412.58 188.43,412.84 188.99,412.65 189.42,412.77 190.41,412.48 190.48,412.49 191.40,412.64 191.98,412.72 192.39,412.46 193.38,412.58 193.48,412.37 194.37,412.80 194.98,412.76 195.36,412.93 196.35,412.80 196.47,412.76 197.34,412.78 197.97,412.50 198.33,412.34 199.32,412.34 199.47,412.37 200.31,412.16 200.97,412.42 201.30,412.53 202.29,412.21 202.46,412.44 203.28,412.67 203.96,412.72 204.27,412.59 205.26,412.55 205.46,412.70 206.25,412.78 206.96,412.66 207.24,412.75 208.23,412.91 208.45,412.69 209.22,412.63 209.95,412.71 210.21,412.70 211.19,412.60 211.45,412.66 212.18,412.87 212.95,412.63 213.17,412.86 214.16,412.53 214.44,412.65 215.15,412.65 215.94,412.44 216.14,412.21 217.13,412.35 217.44,412.43 218.12,412.72 218.94,412.73 219.11,412.57 220.10,412.47 220.43,412.56 221.09,412.50 221.93,412.48 222.08,412.29 223.07,412.51 223.43,412.77 224.06,412.47 224.93,412.38 225.05,412.24 226.04,412.41 226.42,412.55 227.03,412.54 227.92,412.60 228.02,412.67 229.01,412.60 229.42,412.61 230.00,412.58 230.92,412.40 230.99,412.50 231.98,412.42 232.41,412.56 232.97,412.42 233.91,412.60 233.96,412.76 234.95,412.64 235.41,412.38 235.94,412.45 236.91,412.71 236.93,412.67 237.92,412.81 238.40,412.59 238.91,412.38 239.90,412.56 239.90,412.39" fill="none" stroke="#cdcdcd" stroke-width="0.8" stroke-opacity="0.85" stroke-linejoin="round"/>
<polyline points="181.50,412.57 181.50,412.46 182.49,412.36 183.00,412.51 183.48,412.76 184.47,412.47 184.49,412.61 185.46,412.79 185.99,412.70 186.45,412.61 187.44,412.35 187.49,412.50 188.43,412.54 188.99,412.37 189.42,412.35 190.41,412.37 190.48,412.60 191.40,412.43 191.98,412.42 192.39,412.59 193.38,412.90 193.48,412.77 194.37,412.41 194.98,412.56 195.36,412.69 196.35,412.52 196.47,412.70 197.34,412.60 197.97,412.58 198.33,412.73 199.32,412.58 199.47,412.53 200.31,412.53 200.97,412.42 201.30,412.40 202.29,412.68 202.46,412.56 203.28,412.47 203.96,412.42 204.27,412.44 205.26,412.74 205.46,412.65 206.25,412.53 206.96,412.73 207.24,412.71 208.23,412.46 208.45,412.59 209.22,412.34 209.95,412.48 210.21,412.38 211.19,412.41 211.45,412.49 212.18,412.54 212.95,412.77 213.17,412.92 214.16,412.59 214.44,412.68 215.15,412.48 215.94,412.68 216.14,412.59 217.13,412.53 217.44,412.59 218.12,412.36 218.94,412.42 219.11,412.41 220.10,412.40 220.43,412.67 221.09,412.55 221.93,412.77 222.08,412.95 223.07,412.37 223.43,412.40 224.06,412.40 224.93,412.42 225.05,412.35 226.04,412.52 226.42,412.46 227.03,412.38 227.92,412.77 228.02,412.88 229.01,412.68 229.42,412.68 230.00,412.62 230.92,412.71 230.99,412.73 231.98,412.71 232.41,412.40 232.97,412.74 233.91,412.73 233.96,412.72 234.95,412.60 235.41,412.73 235.94,412.89 236.91,412.69 236.93,412.59 237.92,412.70 238.40,412.45 238.91,412.52 239.90,412.77 239.90,412.70" fill="none" stroke="#ee7f88" stroke-width="0.8" stroke-opacity="0.9" stroke-linejoin="round"/>
<polyline points="181.50,412.75 181.50,412.72 182.49,412.76 183.00,412.43 183.48,412.24 184.47,412.63 184.49,412.53 185.46,412.57 185.99,412.70 186.45,412.77 187.44,412.53 187.49,412.45 188.43,412.40 188.99,412.53 189.42,412.30 190.41,412.53 190.48,412.43 191.40,412.63 191.98,412.53 192.39,412.72 193.38,412.49 193.48,412.48 194.37,412.55 194.98,412.46 195.36,412.73 196.35,412.80 196.47,412.64 197.34,412.67 197.97,412.75 198.33,412.59 199.32,412.36 199.47,412.40 200.31,412.47 200.97,412.74 201.30,412.80 202.29,412.75 202.46,412.55 203.28,412.35 203.96,412.36 204.27,412.37 205.26,412.56 205.46,412.64 206.25,412.87 206.96,412.68 207.24,412.85 208.23,412.51 208.45,412.62 209.22,412.84 209.95,412.70 210.21,412.71 211.19,412.41 211.45,412.47 212.18,412.53 212.95,412.66 213.17,412.57 214.16,412.97 214.44,412.76 215.15,412.63 215.94,412.53 216.14,412.66 217.13,412.56 217.44,412.68 218.12,412.81 218.94,412.71 219.11,412.54 220.10,412.84 220.43,412.78 221.09,412.76 221.93,412.43 222.08,412.42 223.07,412.76 223.43,412.63 224.06,412.44 224.93,412.53 225.05,412.75 226.04,412.53 226.42,412.58 227.03,412.40 227.92,412.42 228.02,412.53 229.01,412.77 229.42,412.76 230.00,412.55 230.92,412.52 230.99,412.49 231.98,412.60 232.41,412.43 232.97,412.32 233.91,412.67 233.96,412.71 234.95,412.67 235.41,412.60 235.94,412.69 236.91,412.64 236.93,412.49 237.92,412.65 238.40,412.65 238.91,412.44 239.90,412.52 239.90,412.38" fill="none" stroke="#5454bf" stroke-width="0.8" stroke-opacity="0.8" stroke-linejoin="round"/>
<text x="38.70" y="386.00" font-size="6.2" text-anchor="end" fill="#222" >0.4</text>
<text x="38.70" y="400.40" font-size="6.2" text-anchor="end" fill="#222" >0.2</text>
<text x="38.70" y="414.80" font-size="6.2" text-anchor="end" fill="#222" >0.0</text>
<rect x="40.50" y="424.30" width="58.40" height="36.00" fill="#fff" stroke="#c9c9c9" stroke-width="0.8"/>
<text x="42.90" y="431.90" font-size="6.3" text-anchor="start" fill="#222" >H3K27me3</text>
<polyline points="40.50,459.92 40.50,459.89 41.49,459.98 42.00,459.67 42.48,459.48 43.47,459.89 43.49,459.79 44.46,459.90 44.99,460.06 45.45,460.15 46.44,459.92 46.49,459.85 47.43,459.86 47.99,460.02 48.42,459.83 49.41,460.15 49.48,460.07 50.40,460.01 50.98,459.74 51.39,459.93 52.38,459.68 52.48,459.67 53.37,459.87 53.98,459.86 54.36,460.08 55.35,459.99 55.47,459.81 56.34,459.91 56.97,460.03 57.33,459.96 58.32,459.97 58.47,460.05 59.31,459.89 59.97,459.96 60.30,460.09 61.29,460.22 61.46,460.06 62.28,459.80 62.96,459.76 63.27,459.76 64.26,459.94 64.46,460.02 65.25,460.17 65.96,459.89 66.24,460.11 67.23,459.91 67.45,460.06 68.22,460.21 68.95,460.00 69.21,460.04 70.19,459.86 70.45,459.94 71.18,459.87 71.95,459.87 72.17,459.78 73.16,460.18 73.44,459.96 74.15,459.89 74.94,459.85 75.14,459.96 76.13,459.75 76.44,459.83 77.12,460.03 77.94,460.02 78.11,459.81 79.10,459.96 79.43,459.85 80.09,460.07 80.93,460.04 81.08,459.99 82.07,460.04 82.43,459.81 83.06,459.63 83.93,459.74 84.05,459.96 85.04,459.66 85.42,459.69 86.03,459.59 86.92,459.71 87.02,459.81 88.01,459.91 88.42,459.84 89.00,459.66 89.92,459.68 89.99,459.66 90.98,459.91 91.41,459.79 91.97,459.60 92.91,459.81 92.96,459.86 93.95,460.03 94.41,460.06 94.94,460.14 95.91,460.07 95.93,459.92 96.92,460.01 97.40,459.98 97.91,459.76 98.90,459.84 98.90,459.71" fill="none" stroke="#cdcdcd" stroke-width="0.8" stroke-opacity="0.85" stroke-linejoin="round"/>
<polyline points="40.50,459.92 40.50,459.92 41.49,459.76 42.00,459.80 42.48,459.62 43.47,459.91 43.49,459.78 44.46,460.03 44.99,459.91 45.45,459.86 46.44,460.08 46.49,460.02 47.43,459.96 47.99,460.08 48.42,459.88 49.41,460.18 49.48,459.96 50.40,460.09 50.98,460.07 51.39,460.21 52.38,460.11 52.48,460.03 53.37,459.72 53.98,459.86 54.36,460.00 55.35,459.93 55.47,459.88 56.34,459.94 56.97,459.73 57.33,459.97 58.32,460.19 58.47,460.03 59.31,460.26 59.97,460.05 60.30,459.91 61.29,459.95 61.46,460.03 62.28,460.04 62.96,459.91 63.27,459.81 64.26,459.81 64.46,460.03 65.25,460.00 65.96,459.76 66.24,459.70 67.23,460.00 67.45,459.84 68.22,459.85 68.95,459.66 69.21,459.78 70.19,459.93 70.45,459.97 71.18,459.76 71.95,459.68 72.17,459.78 73.16,459.96 73.44,459.95 74.15,459.72 74.94,459.75 75.14,459.81 76.13,459.64 76.44,459.73 77.12,459.72 77.94,459.96 78.11,459.77 79.10,460.08 79.43,459.95 80.09,460.13 80.93,460.08 81.08,459.94 82.07,459.98 82.43,459.81 83.06,459.84 83.93,459.87 84.05,459.96 85.04,459.63 85.42,459.81 86.03,459.92 86.92,460.08 87.02,460.22 88.01,459.89 88.42,460.08 89.00,460.19 89.92,459.77 89.99,459.89 90.98,459.84 91.41,459.97 91.97,459.92 92.91,459.67 92.96,459.53 93.95,459.53 94.41,459.80 94.94,459.85 95.91,460.01 95.93,460.01 96.92,459.62 97.40,459.75 97.91,459.68 98.90,459.76 98.90,459.67" fill="none" stroke="#ee7f88" stroke-width="0.8" stroke-opacity="0.9" stroke-linejoin="round"/>
<polyline points="40.50,459.95 40.50,459.85 41.49,459.66 42.00,459.77 42.48,460.08 43.47,459.93 43.49,460.08 44.46,459.96 44.99,459.71 45.45,459.71 46.44,459.66 46.49,459.82 47.43,459.93 47.99,459.81 48.42,459.70 49.41,459.51 49.48,459.73 50.40,459.79 50.98,459.94 51.39,459.96 52.38,459.91 52.48,459.75 53.37,459.54 53.98,459.80 54.36,459.95 55.35,459.84 55.47,460.03 56.34,459.86 56.97,459.79 57.33,459.96 58.32,459.88 58.47,459.83 59.31,459.84 59.97,459.74 60.30,459.68 61.29,459.87 61.46,459.73 62.28,459.75 62.96,459.81 63.27,459.79 64.26,459.94 64.46,459.83 65.25,459.59 65.96,459.69 66.24,459.76 67.23,459.81 67.45,460.01 68.22,459.83 68.95,460.02 69.21,459.88 70.19,459.77 70.45,459.81 71.18,459.71 71.95,459.80 72.17,459.95 73.16,459.59 73.44,459.68 74.15,459.52 74.94,459.78 75.14,459.71 76.13,459.76 76.44,459.86 77.12,459.63 77.94,459.70 78.11,459.70 79.10,459.75 79.43,460.03 80.09,459.84 80.93,459.98 81.08,460.17 82.07,459.63 82.43,459.67 83.06,459.71 83.93,459.78 84.05,459.72 85.04,459.87 85.42,459.82 86.03,459.63 86.92,459.86 87.02,460.00 88.01,459.99 88.42,460.06 89.00,459.94 89.92,459.92 89.99,459.96 90.98,460.20 91.41,460.00 91.97,460.21 92.91,459.98 92.96,459.96 93.95,459.78 94.41,459.89 94.94,460.12 95.91,460.04 95.93,459.94 96.92,460.00 97.40,459.74 97.91,459.82 98.90,460.10 98.90,460.03" fill="none" stroke="#5454bf" stroke-width="0.8" stroke-opacity="0.8" stroke-linejoin="round"/>
<rect x="111.00" y="424.30" width="58.40" height="36.00" fill="#fff" stroke="#c9c9c9" stroke-width="0.8"/>
<text x="113.40" y="431.90" font-size="6.3" text-anchor="start" fill="#222" >H3K9me3</text>
<polyline points="111.00,460.02 111.00,459.85 111.99,459.94 112.50,459.99 112.98,459.92 113.97,460.09 113.99,460.08 114.96,460.03 115.49,459.91 115.95,459.86 116.94,459.98 116.99,459.87 117.93,459.73 118.49,459.96 118.92,459.93 119.91,459.79 119.98,459.94 120.90,459.91 121.48,459.86 121.89,459.74 122.88,460.00 122.98,459.99 123.87,460.18 124.48,459.94 124.86,459.83 125.85,459.64 125.97,459.85 126.84,459.82 127.47,459.89 127.83,459.76 128.82,459.82 128.97,459.75 129.81,459.86 130.47,459.74 130.80,459.86 131.79,459.73 131.96,459.80 132.78,459.60 133.46,459.84 133.77,460.04 134.76,460.03 134.96,459.96 135.75,459.99 136.46,459.76 136.74,459.57 137.73,459.56 137.95,459.77 138.72,459.79 139.45,459.95 139.71,460.00 140.69,459.93 140.95,460.00 141.68,459.76 142.45,459.90 142.67,460.04 143.66,459.78 143.94,459.94 144.65,459.81 145.44,459.94 145.64,460.00 146.63,459.99 146.94,459.93 147.62,460.02 148.44,459.93 148.61,460.10 149.60,459.99 149.93,460.07 150.59,459.96 151.43,459.87 151.58,460.04 152.57,459.73 152.93,459.69 153.56,459.95 154.43,460.05 154.55,460.13 155.54,459.71 155.92,459.79 156.53,460.02 157.42,459.80 157.52,459.95 158.51,459.83 158.92,459.68 159.50,459.80 160.42,459.98 160.49,460.19 161.48,459.81 161.91,459.83 162.47,460.11 163.41,460.05 163.46,460.10 164.45,460.12 164.91,460.03 165.44,459.75 166.41,459.82 166.43,459.79 167.42,460.05 167.90,460.01 168.41,460.12 169.40,460.04 169.40,460.03" fill="none" stroke="#cdcdcd" stroke-width="0.8" stroke-opacity="0.85" stroke-linejoin="round"/>
<polyline points="111.00,459.85 111.00,459.84 111.99,459.87 112.50,459.77 112.98,459.97 113.97,460.05 113.99,460.08 114.96,459.87 115.49,459.71 115.95,459.88 116.94,460.03 116.99,459.82 117.93,459.95 118.49,459.81 118.92,459.59 119.91,459.53 119.98,459.73 120.90,459.77 121.48,459.94 121.89,460.00 122.88,459.74 122.98,459.75 123.87,459.63 124.48,459.80 124.86,459.72 125.85,460.22 125.97,460.03 126.84,459.66 127.47,459.79 127.83,459.65 128.82,459.78 128.97,459.83 129.81,459.61 130.47,459.74 130.80,459.95 131.79,459.90 131.96,459.73 132.78,459.69 133.46,459.81 133.77,459.89 134.76,459.76 134.96,459.83 135.75,459.66 136.46,459.69 136.74,459.57 137.73,460.10 137.95,460.01 138.72,460.05 139.45,460.02 139.71,459.77 140.69,459.87 140.95,459.81 141.68,460.04 142.45,459.80 142.67,459.98 143.66,459.70 143.94,459.68 144.65,459.86 145.44,459.78 145.64,459.84 146.63,459.87 146.94,459.86 147.62,460.01 148.44,459.70 148.61,459.92 149.60,459.75 149.93,460.03 150.59,459.95 151.43,459.98 151.58,459.90 152.57,459.78 152.93,459.67 153.56,459.55 154.43,459.78 154.55,459.75 155.54,459.62 155.92,459.82 156.53,460.05 157.42,459.86 157.52,459.94 158.51,459.78 158.92,460.06 159.50,460.03 160.42,459.92 160.49,459.74 161.48,459.99 161.91,460.00 162.47,459.81 163.41,459.98 163.46,459.89 164.45,460.06 164.91,459.89 165.44,460.15 166.41,460.04 166.43,460.21 167.42,459.90 167.90,459.74 168.41,459.65 169.40,460.03 169.40,460.00" fill="none" stroke="#ee7f88" stroke-width="0.8" stroke-opacity="0.9" stroke-linejoin="round"/>
<polyline points="111.00,460.13 111.00,459.92 111.99,459.55 112.50,459.67 112.98,459.90 113.97,459.89 113.99,459.79 114.96,460.16 115.49,460.06 115.95,460.21 116.94,459.92 116.99,459.85 117.93,459.87 118.49,460.02 118.92,459.89 119.91,460.02 119.98,460.07 120.90,459.71 121.48,459.74 121.89,459.83 122.88,459.86 122.98,459.67 123.87,459.64 124.48,459.86 124.86,459.70 125.85,459.85 125.97,459.81 126.84,460.10 127.47,460.03 127.83,460.06 128.82,460.00 128.97,460.05 129.81,460.04 130.47,459.96 130.80,460.03 131.79,459.98 131.96,460.06 132.78,459.74 133.46,459.76 133.77,459.82 134.76,460.06 134.96,460.02 135.75,460.16 136.46,459.89 136.74,459.88 137.73,460.20 137.95,460.06 138.72,460.12 139.45,460.00 139.71,460.21 140.69,460.08 140.95,459.94 141.68,459.78 142.45,459.87 142.67,460.00 143.66,459.75 143.94,459.96 144.65,460.07 145.44,459.85 145.64,459.82 146.63,460.07 146.94,459.83 147.62,459.83 148.44,460.02 148.61,459.77 149.60,459.85 149.93,459.85 150.59,459.90 151.43,460.04 151.58,460.02 152.57,459.86 152.93,459.81 153.56,459.77 154.43,459.74 154.55,459.72 155.54,459.56 155.92,459.69 156.53,459.93 157.42,459.71 157.52,459.59 158.51,459.67 158.92,459.84 159.50,459.78 160.42,459.68 160.49,459.46 161.48,459.53 161.91,459.79 162.47,459.96 163.41,459.81 163.46,459.98 164.45,460.17 164.91,460.06 165.44,460.13 166.41,460.07 166.43,460.05 167.42,459.86 167.90,459.98 168.41,459.73 169.40,459.93 169.40,459.71" fill="none" stroke="#5454bf" stroke-width="0.8" stroke-opacity="0.8" stroke-linejoin="round"/>
<rect x="181.50" y="424.30" width="58.40" height="36.00" fill="#fff" stroke="#c9c9c9" stroke-width="0.8"/>
<text x="183.90" y="431.90" font-size="6.3" text-anchor="start" fill="#222" >PolII</text>
<polyline points="181.50,459.95 181.50,459.87 182.49,459.94 183.00,459.94 183.48,459.99 184.47,459.94 184.49,459.96 185.46,459.89 185.99,459.86 186.45,459.79 187.44,459.77 187.49,459.90 188.43,459.94 188.99,459.99 189.42,459.94 190.41,459.94 190.48,460.07 191.40,459.97 191.98,460.00 192.39,459.70 193.38,459.64 193.48,459.70 194.37,459.50 194.98,459.69 195.36,459.91 196.35,459.86 196.47,459.80 197.34,459.96 197.97,459.97 198.33,459.99 199.32,460.07 199.47,459.85 200.31,459.71 200.97,459.74 201.30,459.63 202.29,459.52 202.46,459.75 203.28,459.97 203.96,460.07 204.27,459.83 205.26,459.57 205.46,459.67 206.25,459.67 206.96,459.74 207.24,459.86 208.23,459.96 208.45,459.83 209.22,459.63 209.95,459.72 210.21,459.96 211.19,459.86 211.45,460.06 212.18,460.05 212.95,460.02 213.17,460.20 214.16,459.91 214.44,459.80 215.15,459.85 215.94,459.94 216.14,459.79 217.13,459.90 217.44,459.82 218.12,459.71 218.94,459.79 219.11,459.62 220.10,459.70 220.43,459.71 221.09,460.01 221.93,460.00 222.08,460.09 223.07,459.81 223.43,459.90 224.06,459.81 224.93,459.68 225.05,459.66 226.04,459.66 226.42,459.89 227.03,459.99 227.92,460.08 228.02,459.88 229.01,460.29 229.42,460.05 230.00,459.94 230.92,459.87 230.99,460.02 231.98,460.16 232.41,460.00 232.97,460.14 233.91,459.91 233.96,459.86 234.95,459.70 235.41,459.90 235.94,459.99 236.91,460.08 236.93,459.85 237.92,460.28 238.40,460.04 238.91,460.08 239.90,459.77 239.90,459.68" fill="none" stroke="#cdcdcd" stroke-width="0.8" stroke-opacity="0.85" stroke-linejoin="round"/>
<polyline points="181.50,460.04 181.50,459.92 182.49,459.95 183.00,459.67 183.48,459.81 184.47,459.63 184.49,459.79 185.46,460.09 185.99,460.06 186.45,459.87 187.44,459.93 187.49,459.85 188.43,459.98 188.99,460.02 189.42,459.94 190.41,460.27 190.48,460.07 191.40,459.69 191.98,459.74 192.39,459.66 193.38,459.79 193.48,459.67 194.37,459.94 194.98,459.86 195.36,459.85 196.35,459.67 196.47,459.81 197.34,459.74 197.97,460.03 198.33,460.23 199.32,460.12 199.47,460.05 200.31,459.80 200.97,459.96 201.30,460.09 202.29,459.93 202.46,460.06 203.28,459.84 203.96,459.76 204.27,459.72 205.26,459.91 205.46,460.02 206.25,460.13 206.96,459.89 207.24,459.69 208.23,459.90 208.45,460.06 209.22,459.87 209.95,460.00 210.21,459.90 211.19,459.76 211.45,459.94 212.18,459.90 212.95,459.87 213.17,460.08 214.16,460.04 214.44,459.96 215.15,460.02 215.94,459.85 216.14,459.62 217.13,459.97 217.44,459.83 218.12,460.13 218.94,460.02 219.11,459.82 220.10,459.74 220.43,459.85 221.09,459.89 221.93,460.04 222.08,460.08 223.07,460.01 223.43,459.81 224.06,459.77 224.93,459.74 225.05,459.61 226.04,459.55 226.42,459.69 227.03,459.91 227.92,459.71 228.02,459.72 229.01,460.03 229.42,459.84 230.00,459.57 230.92,459.68 230.99,459.57 231.98,459.97 232.41,459.79 232.97,459.57 233.91,459.81 233.96,459.96 234.95,459.92 235.41,460.06 235.94,460.13 236.91,460.07 236.93,460.27 237.92,459.93 238.40,459.98 238.91,459.76 239.90,459.87 239.90,459.71" fill="none" stroke="#ee7f88" stroke-width="0.8" stroke-opacity="0.9" stroke-linejoin="round"/>
<polyline points="181.50,460.02 181.50,459.89 182.49,460.13 183.00,459.99 183.48,460.11 184.47,460.30 184.49,460.08 185.46,460.10 185.99,459.91 186.45,459.78 187.44,459.90 187.49,459.87 188.43,460.12 188.99,459.96 189.42,460.18 190.41,459.73 190.48,459.94 191.40,460.10 191.98,459.86 192.39,459.90 193.38,459.98 193.48,459.99 194.37,460.03 194.98,459.94 195.36,460.04 196.35,459.94 196.47,459.85 197.34,459.90 197.97,459.89 198.33,459.88 199.32,459.57 199.47,459.75 200.31,459.55 200.97,459.74 201.30,459.97 202.29,459.90 202.46,459.80 203.28,460.05 203.96,459.84 204.27,459.86 205.26,459.87 205.46,459.96 206.25,459.85 206.96,459.76 207.24,459.96 208.23,459.86 208.45,459.77 209.22,460.02 209.95,459.95 210.21,459.85 211.19,459.84 211.45,460.00 212.18,459.89 212.95,459.90 213.17,459.89 214.16,459.74 214.44,459.94 215.15,459.89 215.94,459.94 216.14,460.08 217.13,459.74 217.44,459.93 218.12,459.87 218.94,459.93 219.11,459.76 220.10,460.10 220.43,460.07 221.09,459.96 221.93,459.87 222.08,459.78 223.07,459.71 223.43,459.69 224.06,460.04 224.93,460.05 225.05,460.17 226.04,459.92 226.42,459.79 227.03,460.02 227.92,459.80 228.02,460.01 229.01,459.62 229.42,459.68 230.00,459.63 230.92,459.98 230.99,459.85 231.98,459.92 232.41,459.83 232.97,459.74 233.91,460.05 233.96,460.10 234.95,460.24 235.41,460.03 235.94,460.05 236.91,459.82 236.93,459.64 237.92,459.77 238.40,460.01 238.91,459.87 239.90,460.09 239.90,460.03" fill="none" stroke="#5454bf" stroke-width="0.8" stroke-opacity="0.8" stroke-linejoin="round"/>
<text x="38.70" y="433.30" font-size="6.2" text-anchor="end" fill="#222" >0.4</text>
<text x="38.70" y="447.70" font-size="6.2" text-anchor="end" fill="#222" >0.2</text>
<text x="38.70" y="462.10" font-size="6.2" text-anchor="end" fill="#222" >0.0</text>
<text x="41.20" y="467.70" font-size="6.2" text-anchor="start" fill="#222" >-8,200</text>
<text x="85.50" y="467.70" font-size="6.2" text-anchor="middle" fill="#222" >0</text>
<text x="105.50" y="467.70" font-size="6.2" text-anchor="end" fill="#222" >3,000</text>
<text x="111.70" y="467.70" font-size="6.2" text-anchor="start" fill="#222" >-8,200</text>
<text x="156.00" y="467.70" font-size="6.2" text-anchor="middle" fill="#222" >0</text>
<text x="176.00" y="467.70" font-size="6.2" text-anchor="end" fill="#222" >3,000</text>
<text x="182.20" y="467.70" font-size="6.2" text-anchor="start" fill="#222" >-8,200</text>
<text x="226.50" y="467.70" font-size="6.2" text-anchor="middle" fill="#222" >0</text>
<text x="246.50" y="467.70" font-size="6.2" text-anchor="end" fill="#222" >3,000</text>
<rect x="266.10" y="366.10" width="248.70" height="124.00" fill="none" stroke="#8a8a8a" stroke-width="1"/>
<rect x="366.75" y="364.10" width="73.50" height="4.00" fill="#fff" stroke="none" stroke-width="0.6"/>
<text x="403.50" y="368.50" font-size="7.4" text-anchor="middle" font-weight="bold" fill="#111" >Remained bivalent</text>
<line x1="279.20" y1="379.90" x2="279.20" y2="385.50" stroke="#333" stroke-width="0.8"/>
<polygon points="279.20,376.10 277.40,380.20 281.00,380.20" fill="#000"/>
<text x="0" y="0" font-size="7.4" text-anchor="middle" fill="#222" transform="translate(281.20,424.05) rotate(-90)">Average peak number</text>
<line x1="304.60" y1="478.00" x2="374.70" y2="478.00" stroke="#555" stroke-width="0.9"/>
<text x="402.80" y="481.00" font-size="7.4" text-anchor="middle" fill="#111" >Distance to TSS</text>
<line x1="431.00" y1="478.00" x2="499.20" y2="478.00" stroke="#555" stroke-width="0.9"/>
<polygon points="502.50,478.00 498.40,475.80 498.40,480.20" fill="#000"/>
<rect x="303.70" y="376.20" width="58.40" height="36.20" fill="#fff" stroke="#c9c9c9" stroke-width="0.8"/>
<text x="306.10" y="383.80" font-size="6.3" text-anchor="start" fill="#222" >H3K4me3</text>
<polyline points="303.70,411.99 303.81,411.97 304.69,412.19 305.68,411.95 306.67,411.99 307.66,411.96 308.65,411.85 309.64,411.74 310.63,411.75 311.62,412.06 312.61,411.69 313.60,412.02 314.59,411.85 315.58,411.75 316.57,411.69 317.56,411.81 318.55,412.07 319.54,411.63 320.53,411.97 321.52,411.80 322.51,411.89 323.50,411.84 324.49,411.53 325.48,411.60 326.47,411.40 327.46,411.91 328.45,411.63 329.44,411.52 330.43,411.45 331.42,411.47 332.41,411.82 333.39,411.50 334.38,411.70 335.37,411.59 335.37,411.52 336.36,411.23 337.35,410.95 338.34,410.58 339.16,410.07 339.33,409.83 340.32,408.66 341.31,406.38 341.68,406.26 342.30,405.45 343.20,403.09 343.29,403.49 344.28,404.26 344.84,405.63 345.27,406.15 346.26,407.72 347.25,409.59 347.36,409.44 348.24,408.75 349.23,407.37 349.26,407.53 350.22,405.91 350.52,405.25 351.21,405.46 352.20,406.62 353.05,406.90 353.19,407.14 354.18,408.09 355.17,408.45 355.57,408.80 356.16,409.35 357.15,409.66 358.14,410.20 358.73,410.71 359.13,410.64 360.12,410.97 361.11,411.70 361.88,411.97 362.10,412.14" fill="none" stroke="#cdcdcd" stroke-width="0.8" stroke-opacity="0.85" stroke-linejoin="round"/>
<polyline points="303.70,412.07 303.81,412.16 304.69,412.01 305.68,411.85 306.67,411.92 307.66,412.16 308.65,411.99 309.64,412.07 310.63,411.91 311.62,412.17 312.61,411.84 313.60,412.14 314.59,411.71 315.58,411.75 316.57,411.84 317.56,412.07 318.55,411.95 319.54,412.09 320.53,411.67 321.52,411.65 322.51,411.56 323.50,411.94 324.49,411.67 325.48,411.90 326.47,411.51 327.46,412.02 328.45,411.92 329.44,411.43 330.43,411.85 331.42,411.48 331.58,411.69 332.41,411.54 333.39,411.48 334.11,411.43 334.38,411.27 335.37,410.93 336.36,409.91 336.63,410.00 337.35,409.41 338.34,408.16 339.16,407.44 339.33,407.44 340.32,404.58 341.05,402.77 341.31,401.55 342.30,395.83 342.31,395.19 343.20,389.53 343.29,390.64 344.21,394.38 344.28,394.87 345.27,399.73 345.47,401.38 346.26,403.88 346.73,404.64 347.25,404.55 348.00,404.38 348.24,402.86 349.23,396.61 349.26,397.14 350.22,392.95 350.52,392.32 351.21,394.09 351.78,395.38 352.20,396.65 353.05,401.44 353.19,401.27 354.18,404.74 354.94,406.17 355.17,406.54 356.16,407.32 356.83,408.54 357.15,408.53 358.14,409.66 358.73,410.05 359.13,410.11 360.12,410.27 360.62,410.53 361.11,410.96 361.88,411.85 362.10,411.94" fill="none" stroke="#ee7f88" stroke-width="0.8" stroke-opacity="0.9" stroke-linejoin="round"/>
<polyline points="303.70,411.97 303.81,412.12 304.69,411.96 305.68,412.32 306.67,411.91 307.66,412.28 308.65,411.85 309.64,412.04 310.63,412.18 311.62,411.87 312.61,411.82 313.60,412.11 314.59,411.98 315.58,412.27 316.57,412.00 317.56,412.01 318.55,412.05 319.54,412.21 320.53,411.94 321.52,412.05 322.51,412.24 323.50,411.74 324.49,411.90 325.48,412.14 326.47,412.07 327.46,411.74 328.45,412.22 329.44,411.91 330.43,412.11 331.42,412.15 331.58,411.95 332.41,411.49 333.39,411.40 334.11,411.40 334.38,411.24 335.37,411.00 336.36,410.14 336.63,410.27 337.35,409.31 338.34,408.93 339.16,407.78 339.33,407.35 340.32,405.04 341.05,402.51 341.31,400.92 342.30,395.34 342.31,394.61 343.20,389.60 343.29,389.82 344.21,394.06 344.28,394.82 345.27,400.68 345.47,401.35 346.26,404.11 346.73,404.97 347.25,404.66 348.00,404.49 348.24,403.20 349.23,397.59 349.26,397.57 350.22,393.15 350.52,392.53 351.21,393.81 351.78,395.64 352.20,397.10 353.05,400.95 353.19,401.34 354.18,404.05 354.94,406.08 355.17,406.83 356.16,407.72 356.83,408.63 357.15,408.51 358.14,409.20 358.73,409.90 359.13,409.76 360.12,410.43 360.62,410.88 361.11,411.21 361.88,412.08 362.10,412.20" fill="none" stroke="#5454bf" stroke-width="0.8" stroke-opacity="0.8" stroke-linejoin="round"/>
<rect x="374.20" y="376.20" width="58.40" height="36.20" fill="#fff" stroke="#c9c9c9" stroke-width="0.8"/>
<text x="376.60" y="383.80" font-size="6.3" text-anchor="start" fill="#222" >H3ac</text>
<polyline points="374.20,411.98 374.20,411.93 375.19,411.94 375.53,411.82 376.18,412.22 376.85,412.15 377.17,412.19 378.16,411.88 378.18,412.03 379.15,412.16 379.51,412.17 380.14,412.01 380.84,411.91 381.13,412.11 382.12,412.13 382.16,412.11 383.11,412.13 383.49,412.06 384.10,412.13 384.82,411.84 385.09,412.03 386.08,412.34 386.15,412.16 387.07,411.96 387.47,412.12 388.06,412.09 388.80,412.06 389.05,412.01 390.04,411.73 390.13,411.84 391.03,411.85 391.45,411.98 392.02,412.05 392.78,411.92 393.01,411.72 394.00,411.79 394.11,411.80 394.99,411.78 395.44,412.09 395.98,412.16 396.76,412.00 396.97,412.09 397.96,412.31 398.09,412.12 398.95,411.80 399.42,411.85 399.94,411.92 400.75,412.18 400.93,411.99 401.92,411.96 402.07,411.86 402.91,411.77 403.40,412.04 403.89,411.88 404.73,411.94 404.88,411.81 405.87,412.30 406.05,412.11 406.86,411.76 407.38,411.79 407.85,411.67 408.71,412.05 408.84,411.94 409.83,412.03 410.04,411.99 410.82,411.81 411.36,411.79 411.81,411.95 412.69,411.93 412.80,412.09 413.79,411.84 414.02,412.05 414.78,412.00 415.35,412.07 415.77,411.71 416.67,411.52 416.76,411.58 417.75,410.75 418.00,410.52 418.74,409.94 419.33,409.81 419.73,410.35 420.65,410.91 420.72,410.94 421.71,411.51 421.98,411.63 422.70,412.02 423.31,412.12 423.69,411.98 424.64,412.03 424.68,411.95 425.67,411.93 425.96,411.84 426.66,411.75 427.29,411.91 427.65,411.68 428.62,411.92 428.64,412.12 429.63,411.67 429.95,411.91 430.62,412.06 431.27,411.99 431.61,412.01 432.60,412.09 432.60,411.95" fill="none" stroke="#cdcdcd" stroke-width="0.8" stroke-opacity="0.85" stroke-linejoin="round"/>
<polyline points="374.20,411.97 374.20,411.83 375.19,411.78 375.53,411.86 376.18,411.98 376.85,411.80 377.17,411.98 378.16,411.78 378.18,411.90 379.15,411.73 379.51,411.64 380.14,411.64 380.84,412.03 381.13,412.01 382.12,411.85 382.16,411.86 383.11,411.62 383.49,411.68 384.10,411.83 384.82,411.77 385.09,411.69 386.08,411.79 386.15,411.60 387.07,411.63 387.47,411.95 388.06,411.91 388.80,411.91 389.05,411.75 390.04,411.98 390.13,411.94 391.03,412.00 391.45,412.04 392.02,412.00 392.78,412.07 393.01,412.13 394.00,412.07 394.11,411.82 394.99,411.85 395.44,411.95 395.98,411.75 396.76,411.79 396.97,411.91 397.96,411.39 398.09,411.57 398.95,411.47 399.42,411.55 399.94,411.76 400.75,411.67 400.93,411.77 401.92,411.85 402.07,411.93 402.91,412.05 403.40,411.90 403.89,411.80 404.73,411.61 404.88,411.83 405.87,411.99 406.05,411.98 406.86,411.62 407.38,411.64 407.85,411.75 408.71,411.81 408.84,411.47 409.83,411.04 410.04,410.71 410.82,409.82 411.36,409.35 411.81,409.68 412.69,409.91 412.80,410.32 413.79,411.33 414.02,411.34 414.78,411.38 415.35,411.61 415.77,411.39 416.67,411.65 416.76,411.43 417.75,409.82 418.00,409.30 418.74,407.61 419.33,406.71 419.73,407.96 420.65,410.02 420.72,409.85 421.71,411.41 421.98,411.59 422.70,411.99 423.31,412.06 423.69,412.20 424.64,412.08 424.68,412.20 425.67,412.13 425.96,411.87 426.66,411.71 427.29,411.94 427.65,411.88 428.62,411.96 428.64,411.83 429.63,411.71 429.95,411.65 430.62,411.86 431.27,411.59 431.61,411.72 432.60,411.99 432.60,411.97" fill="none" stroke="#ee7f88" stroke-width="0.8" stroke-opacity="0.9" stroke-linejoin="round"/>
<polyline points="374.20,412.10 374.20,412.03 375.19,411.78 375.53,411.84 376.18,412.07 376.85,411.83 377.17,411.58 378.16,411.43 378.18,411.57 379.15,411.54 379.51,411.65 380.14,411.62 380.84,411.67 381.13,411.46 382.12,411.68 382.16,411.73 383.11,411.88 383.49,412.03 384.10,412.05 384.82,411.60 385.09,411.86 386.08,411.74 386.15,411.87 387.07,411.89 387.47,411.78 388.06,411.98 388.80,412.06 389.05,412.09 390.04,411.99 390.13,411.94 391.03,411.66 391.45,411.64 392.02,411.90 392.78,412.05 393.01,411.86 394.00,411.87 394.11,412.07 394.99,411.76 395.44,411.93 395.98,411.78 396.76,411.92 396.97,411.95 397.96,411.76 398.09,411.84 398.95,411.98 399.42,411.84 399.94,412.09 400.75,412.01 400.93,411.80 401.92,412.32 402.07,412.12 402.91,411.89 403.40,411.91 403.89,412.10 404.73,411.94 404.88,412.08 405.87,412.04 406.05,411.81 406.86,411.65 407.38,411.79 407.85,411.83 408.71,411.56 408.84,411.37 409.83,411.04 410.04,410.88 410.82,410.48 411.36,409.80 411.81,410.12 412.69,410.33 412.80,410.37 413.79,411.36 414.02,411.30 414.78,411.36 415.35,411.71 415.77,411.93 416.67,411.87 416.76,411.83 417.75,409.99 418.00,409.70 418.74,408.38 419.33,407.36 419.73,408.29 420.65,410.06 420.72,409.89 421.71,411.30 421.98,411.84 422.70,412.16 423.31,411.99 423.69,411.81 424.64,412.11 424.68,412.33 425.67,412.29 425.96,412.05 426.66,412.13 427.29,412.08 427.65,412.15 428.62,411.56 428.64,411.49 429.63,411.38 429.95,411.58 430.62,411.99 431.27,411.92 431.61,411.82 432.60,412.10 432.60,411.87" fill="none" stroke="#5454bf" stroke-width="0.8" stroke-opacity="0.8" stroke-linejoin="round"/>
<rect x="444.70" y="376.20" width="58.40" height="36.20" fill="#fff" stroke="#c9c9c9" stroke-width="0.8"/>
<text x="447.10" y="383.80" font-size="6.3" text-anchor="start" fill="#222" >H3K79me2</text>
<polyline points="444.70,411.80 444.70,411.73 445.69,412.03 446.03,411.98 446.68,411.87 447.35,411.95 447.67,411.96 448.66,412.07 448.68,412.04 449.65,412.34 450.01,412.14 450.64,412.14 451.34,412.04 451.63,411.99 452.62,412.25 452.66,412.11 453.61,412.20 453.99,412.14 454.60,412.26 455.32,412.12 455.59,412.01 456.58,412.06 456.65,412.17 457.57,411.86 457.97,411.95 458.56,411.84 459.30,412.14 459.55,412.00 460.54,411.76 460.63,411.92 461.53,412.21 461.95,412.03 462.52,412.01 463.28,411.80 463.51,411.94 464.50,412.02 464.61,411.91 465.49,411.93 465.94,411.86 466.48,411.88 467.26,411.91 467.47,411.74 468.46,411.96 468.59,411.87 469.45,411.89 469.92,411.79 470.44,411.59 471.25,411.76 471.43,412.03 472.42,412.30 472.57,412.12 473.41,412.30 473.90,412.06 474.39,411.93 475.23,412.06 475.38,411.94 476.37,412.05 476.55,412.10 477.36,412.09 477.88,411.86 478.35,411.72 479.21,411.79 479.34,412.00 480.33,411.97 480.54,412.16 481.32,411.90 481.86,412.12 482.31,411.87 483.19,411.80 483.30,411.99 484.29,412.18 484.52,412.14 485.28,412.25 485.85,412.15 486.27,411.84 487.17,411.81 487.26,411.71 488.25,412.06 488.50,412.07 489.24,412.23 489.83,412.18 490.23,412.29 491.15,411.89 491.22,411.77 492.21,411.82 492.48,411.65 493.20,411.07 493.81,410.73 494.19,410.75 495.14,410.89 495.18,410.89 496.17,411.14 496.46,411.51 497.16,411.86 497.79,411.76 498.15,411.92 499.12,411.78 499.14,411.73 500.13,412.16 500.45,411.98 501.12,411.69 501.77,411.79 502.11,412.01 503.10,411.89 503.10,411.66" fill="none" stroke="#cdcdcd" stroke-width="0.8" stroke-opacity="0.85" stroke-linejoin="round"/>
<polyline points="444.70,412.22 444.70,412.07 445.69,412.00 446.03,412.02 446.68,411.81 447.35,411.73 447.67,411.90 448.66,412.17 448.68,412.02 449.65,411.56 450.01,411.58 450.64,411.55 451.34,411.64 451.63,411.80 452.62,411.66 452.66,411.69 453.61,411.71 453.99,411.85 454.60,411.66 455.32,411.65 455.59,411.56 456.58,411.75 456.65,411.98 457.57,411.75 457.97,411.77 458.56,411.60 459.30,411.91 459.55,411.90 460.54,411.96 460.63,411.84 461.53,411.45 461.95,411.57 462.52,411.86 463.28,411.99 463.51,412.11 464.50,411.89 464.61,411.69 465.49,411.66 465.94,411.68 466.48,411.64 467.26,412.07 467.47,412.06 468.46,411.38 468.59,411.55 469.45,411.57 469.92,411.86 470.44,411.96 471.25,411.81 471.43,411.83 472.42,411.88 472.57,411.94 473.41,411.78 473.90,411.80 474.39,411.62 475.23,411.57 475.38,411.83 476.37,411.78 476.55,411.92 477.36,411.95 477.88,411.70 478.35,411.69 479.21,411.67 479.34,411.65 480.33,411.82 480.54,411.62 481.32,411.61 481.86,411.72 482.31,411.74 483.19,411.87 483.30,412.00 484.29,411.79 484.52,411.92 485.28,412.08 485.85,411.90 486.27,411.70 487.17,411.90 487.26,412.08 488.25,411.46 488.50,411.55 489.24,410.98 489.83,410.57 490.23,410.16 491.15,408.56 491.22,408.77 492.21,409.33 492.48,409.87 493.20,410.85 493.81,411.85 494.19,411.69 495.14,411.47 495.18,411.34 496.17,411.00 496.46,410.63 497.16,409.41 497.79,408.35 498.15,408.65 499.12,410.35 499.14,410.49 500.13,411.53 500.45,411.86 501.12,411.47 501.77,411.58 502.11,411.45 503.10,411.96 503.10,411.87" fill="none" stroke="#ee7f88" stroke-width="0.8" stroke-opacity="0.9" stroke-linejoin="round"/>
<polyline points="444.70,411.91 444.70,411.88 445.69,411.80 446.03,411.80 446.68,411.95 447.35,411.80 447.67,411.67 448.66,411.92 448.68,411.78 449.65,411.58 450.01,411.66 450.64,411.68 451.34,411.57 451.63,411.52 452.62,411.59 452.66,411.73 453.61,411.91 453.99,411.66 454.60,411.50 455.32,411.79 455.59,412.02 456.58,411.65 456.65,411.85 457.57,411.91 457.97,411.64 458.56,411.42 459.30,411.55 459.55,411.56 460.54,411.73 460.63,411.79 461.53,411.69 461.95,411.76 462.52,411.67 463.28,412.08 463.51,412.04 464.50,411.46 464.61,411.63 465.49,411.92 465.94,411.75 466.48,411.87 467.26,411.76 467.47,411.75 468.46,411.94 468.59,412.02 469.45,411.71 469.92,411.79 470.44,411.66 471.25,411.77 471.43,411.91 472.42,412.08 472.57,412.03 473.41,411.98 473.90,411.88 474.39,411.95 475.23,411.69 475.38,411.50 476.37,411.49 476.55,411.67 477.36,411.68 477.88,411.71 478.35,411.71 479.21,411.73 479.34,411.96 480.33,411.43 480.54,411.58 481.32,411.62 481.86,411.67 482.31,411.95 483.19,412.08 483.30,411.92 484.29,411.92 484.52,411.91 485.28,412.23 485.85,412.10 486.27,411.93 487.17,411.60 487.26,411.75 488.25,411.88 488.50,411.67 489.24,411.42 489.83,411.02 490.23,410.34 491.15,408.92 491.22,408.77 492.21,410.06 492.48,410.10 493.20,410.95 493.81,411.55 494.19,411.49 495.14,411.74 495.18,411.86 496.17,410.80 496.46,410.81 497.16,409.62 497.79,408.55 498.15,408.97 499.12,410.46 499.14,410.74 500.13,411.48 500.45,411.82 501.12,411.82 501.77,411.55 502.11,411.74 503.10,411.60 503.10,411.60" fill="none" stroke="#5454bf" stroke-width="0.8" stroke-opacity="0.8" stroke-linejoin="round"/>
<text x="301.90" y="385.40" font-size="6.2" text-anchor="end" fill="#222" >0.4</text>
<text x="301.90" y="399.80" font-size="6.2" text-anchor="end" fill="#222" >0.2</text>
<text x="301.90" y="414.20" font-size="6.2" text-anchor="end" fill="#222" >0.0</text>
<rect x="303.70" y="424.30" width="58.40" height="35.90" fill="#fff" stroke="#c9c9c9" stroke-width="0.8"/>
<text x="306.10" y="431.90" font-size="6.3" text-anchor="start" fill="#222" >H3K27me3</text>
<polyline points="303.70,460.05 304.44,459.97 304.69,459.89 305.68,460.01 306.67,459.17 307.66,459.55 308.65,458.75 309.64,458.91 310.63,458.34 311.62,457.97 312.61,458.64 312.64,458.07 313.60,457.53 314.59,458.61 315.58,457.58 316.57,458.59 317.56,457.63 318.55,457.98 319.54,457.95 320.53,457.88 321.52,457.49 322.51,458.17 323.50,457.56 324.49,458.60 325.27,458.07 325.48,458.34 326.47,457.83 327.46,457.71 328.45,457.35 329.44,457.33 330.43,457.83 331.42,457.67 331.58,457.44 332.41,457.05 333.39,456.69 334.38,455.12 335.37,454.47 336.36,454.37 336.63,454.26 337.35,454.58 338.34,455.87 339.16,455.53 339.33,454.80 340.32,454.04 341.31,453.36 341.68,452.36 342.30,451.17 343.29,450.65 343.58,450.46 344.28,452.70 345.27,453.86 345.47,454.26 346.26,455.53 347.25,456.71 347.36,456.17 348.24,455.97 349.23,454.92 350.22,453.89 350.52,454.26 351.21,454.64 352.20,454.03 353.05,453.63 353.19,453.33 354.18,454.71 355.17,454.06 355.57,454.90 356.16,455.18 357.15,455.45 358.10,456.17 358.14,456.85 359.13,456.64 360.12,457.55 360.62,457.44 361.11,457.89 362.10,457.44" fill="none" stroke="#cdcdcd" stroke-width="0.8" stroke-opacity="0.85" stroke-linejoin="round"/>
<polyline points="303.70,460.20 304.44,459.87 304.69,459.09 305.68,455.12 306.33,453.42 306.67,453.72 307.66,454.71 308.23,454.65 308.65,454.21 309.64,454.40 310.12,453.89 310.63,454.31 311.62,455.93 312.01,455.96 312.61,454.73 313.60,454.46 313.91,453.27 314.59,454.35 315.58,454.40 315.80,455.30 316.57,454.80 317.56,452.80 317.69,452.39 318.55,453.61 319.54,454.04 319.59,453.89 320.53,452.64 321.48,451.60 321.52,450.66 322.49,449.48 322.51,448.57 323.50,452.55 324.01,453.58 324.49,452.66 325.48,452.24 325.90,451.75 326.47,452.37 327.46,451.83 327.80,451.31 328.45,452.00 329.44,452.38 329.69,452.32 330.43,450.63 331.42,449.96 331.58,450.39 332.41,451.15 333.39,450.08 333.48,450.24 334.38,449.99 335.37,448.79 335.37,449.31 336.36,446.56 337.26,446.20 337.35,447.27 338.34,445.68 339.16,446.30 339.33,444.90 340.32,444.85 340.42,443.25 341.31,442.30 342.30,439.08 342.31,439.96 343.29,443.92 344.21,445.13 344.28,445.75 345.27,449.58 346.10,452.03 346.26,451.69 347.25,454.06 347.36,454.80 348.24,449.70 348.63,448.24 349.23,445.41 350.22,440.48 350.52,437.56 351.21,437.58 351.78,439.99 352.20,441.84 353.05,443.09 353.19,443.74 354.18,443.16 354.31,441.82 355.17,443.99 355.57,446.24 356.16,445.82 356.83,445.06 357.15,446.64 358.10,448.10 358.14,449.12 359.13,446.69 359.36,446.26 360.12,450.44 361.11,454.47 361.25,454.23 362.10,454.27" fill="none" stroke="#ee7f88" stroke-width="0.8" stroke-opacity="0.9" stroke-linejoin="round"/>
<polyline points="303.70,460.10 304.44,459.77 304.69,458.84 305.68,455.40 306.33,453.40 306.67,454.03 307.66,454.98 308.23,454.91 308.65,454.37 309.64,454.37 310.12,454.43 310.63,455.48 311.62,455.99 312.01,456.52 312.61,455.29 313.60,453.67 313.91,453.51 314.59,453.49 315.58,454.05 315.80,454.92 316.57,453.50 317.56,451.51 317.69,452.18 318.55,453.17 319.54,454.68 319.59,454.35 320.53,452.21 321.48,451.53 321.52,451.93 322.49,449.98 322.51,450.74 323.50,452.69 324.01,453.03 324.49,452.59 325.48,451.13 325.90,451.56 326.47,451.72 327.46,450.35 327.80,451.15 328.45,450.83 329.44,452.64 329.69,452.33 330.43,451.56 331.42,450.32 331.58,450.33 332.41,449.89 333.39,449.67 333.48,450.04 334.38,450.24 335.37,448.52 335.37,448.07 336.36,447.88 337.26,445.80 337.35,445.86 338.34,446.31 339.16,446.82 339.33,447.28 340.32,443.15 340.42,443.26 341.31,441.30 342.30,440.39 342.31,439.54 343.29,441.69 344.21,445.14 344.28,446.31 345.27,447.98 346.10,451.84 346.26,453.04 347.25,454.41 347.36,455.19 348.24,449.90 348.63,447.71 349.23,445.21 350.22,439.35 350.52,436.92 351.21,437.28 351.78,440.34 352.20,440.75 353.05,443.13 353.19,442.71 354.18,441.32 354.31,441.79 355.17,445.92 355.57,446.55 356.16,446.00 356.83,445.53 357.15,445.10 358.10,447.60 358.14,448.03 359.13,446.91 359.36,446.59 360.12,448.72 361.11,453.20 361.25,454.48 362.10,454.78" fill="none" stroke="#5454bf" stroke-width="0.8" stroke-opacity="0.8" stroke-linejoin="round"/>
<rect x="374.20" y="424.30" width="58.40" height="35.90" fill="#fff" stroke="#c9c9c9" stroke-width="0.8"/>
<text x="376.60" y="431.90" font-size="6.3" text-anchor="start" fill="#222" >H3K9me3</text>
<polyline points="374.20,460.14 374.44,460.20 375.19,459.77 376.18,460.19 377.17,459.77 378.16,460.20 379.15,460.20 380.14,460.10 381.13,460.20 382.12,459.93 383.11,459.93 384.10,459.73 385.09,459.41 386.08,460.05 387.07,459.93 388.06,459.64 389.05,459.48 390.04,459.83 391.03,459.50 392.02,459.73 393.01,459.58 394.00,459.68 394.99,459.55 395.27,459.34 395.98,459.30 396.97,459.00 397.96,458.94 398.95,458.74 399.94,459.52 400.93,459.39 401.92,458.93 402.91,459.12 403.89,458.31 404.88,458.72 405.37,458.71 405.87,458.13 406.86,457.99 407.85,457.69 407.90,458.07 408.84,458.32 409.83,457.19 410.82,457.04 411.81,457.60 412.80,456.51 412.95,456.80 413.79,457.74 414.78,457.39 415.47,458.07 415.77,458.03 416.76,458.31 417.75,459.07 418.00,458.71 418.74,458.11 419.73,458.14 420.72,457.35 421.71,457.82 421.79,457.44 422.70,457.67 423.69,457.78 424.68,457.92 425.57,458.07 425.67,458.52 426.66,458.69 427.65,458.65 428.64,458.19 429.63,458.12 430.62,459.16 430.62,458.71 431.61,458.59 432.60,458.65" fill="none" stroke="#cdcdcd" stroke-width="0.8" stroke-opacity="0.85" stroke-linejoin="round"/>
<polyline points="374.20,459.82 374.44,460.10 375.19,459.37 376.18,458.34 376.33,457.68 377.17,457.22 378.16,455.95 378.86,456.06 379.15,456.67 380.14,456.85 381.13,457.53 381.38,457.74 382.12,457.76 383.11,457.28 383.91,456.78 384.10,457.05 385.09,456.86 386.08,457.30 386.43,457.53 387.07,457.01 388.06,456.63 388.96,456.48 389.05,456.74 390.04,456.20 391.03,456.65 391.48,456.80 392.02,456.61 393.01,456.90 394.00,456.72 394.01,456.50 394.99,455.89 395.98,455.94 396.54,456.21 396.97,455.65 397.96,456.30 398.95,456.33 399.06,455.84 399.94,455.08 400.93,454.72 401.59,455.19 401.92,454.61 402.91,454.36 403.89,453.70 404.11,453.68 404.88,453.79 405.87,453.04 406.64,452.13 406.86,451.48 407.85,451.89 408.84,450.45 409.16,450.09 409.83,448.28 410.82,446.46 411.05,446.21 411.81,445.89 412.80,444.00 412.95,442.75 413.79,443.69 414.21,444.43 414.78,447.75 415.47,450.40 415.77,450.92 416.76,453.98 417.37,455.61 417.75,454.07 418.74,451.06 419.26,448.85 419.73,447.77 420.72,443.39 420.90,443.80 421.71,443.59 422.42,445.13 422.70,444.65 423.69,447.00 424.31,447.43 424.68,448.59 425.57,450.07 425.67,449.62 426.66,450.34 427.47,451.36 427.65,451.14 428.64,450.01 428.73,450.59 429.63,452.32 429.99,452.14 430.62,453.61 431.26,455.13 431.61,455.56 432.60,455.04" fill="none" stroke="#ee7f88" stroke-width="0.8" stroke-opacity="0.9" stroke-linejoin="round"/>
<polyline points="374.20,460.00 374.44,460.13 375.19,458.81 376.18,457.93 376.33,457.17 377.17,457.32 378.16,456.05 378.86,456.38 379.15,456.85 380.14,456.64 381.13,457.29 381.38,457.32 382.12,456.72 383.11,456.91 383.91,457.04 384.10,457.27 385.09,457.68 386.08,457.70 386.43,457.58 387.07,456.75 388.06,455.90 388.96,455.88 389.05,455.59 390.04,456.75 391.03,456.52 391.48,456.97 392.02,457.07 393.01,456.08 394.00,456.37 394.01,456.09 394.99,456.49 395.98,456.56 396.54,456.19 396.97,455.58 397.96,456.16 398.95,456.07 399.06,455.56 399.94,455.80 400.93,455.32 401.59,454.90 401.92,454.83 402.91,454.76 403.89,453.70 404.11,453.80 404.88,452.57 405.87,452.17 406.64,452.17 406.86,451.68 407.85,451.71 408.84,450.07 409.16,450.06 409.83,449.17 410.82,448.90 411.05,448.07 411.81,446.13 412.80,445.92 412.95,445.02 413.79,445.70 414.21,446.78 414.78,448.10 415.47,450.51 415.77,450.98 416.76,453.18 417.37,455.30 417.75,454.47 418.74,451.24 419.26,449.26 419.73,447.25 420.72,443.70 420.90,443.70 421.71,444.66 422.42,445.52 422.70,445.47 423.69,446.81 424.31,447.01 424.68,447.25 425.57,450.07 425.67,449.63 426.66,451.47 427.47,451.02 427.65,450.24 428.64,449.89 428.73,450.53 429.63,452.45 429.99,452.27 430.62,453.25 431.26,454.99 431.61,454.43 432.60,455.26" fill="none" stroke="#5454bf" stroke-width="0.8" stroke-opacity="0.8" stroke-linejoin="round"/>
<rect x="444.70" y="424.30" width="58.40" height="35.90" fill="#fff" stroke="#c9c9c9" stroke-width="0.8"/>
<text x="447.10" y="431.90" font-size="6.3" text-anchor="start" fill="#222" >PolII</text>
<polyline points="444.70,460.13 444.70,460.10 445.69,460.03 446.68,460.10 447.67,460.14 448.66,460.08 449.65,460.20 450.64,460.01 451.63,459.86 452.62,460.05 453.61,459.91 454.60,459.92 455.59,459.94 456.58,460.07 457.57,459.91 458.56,459.89 459.55,460.10 460.54,459.69 461.53,459.73 462.52,459.77 463.51,459.93 464.50,459.74 465.49,459.61 466.48,459.79 467.47,459.57 468.46,459.58 469.45,459.88 470.44,459.75 471.43,459.89 472.42,459.65 473.41,459.60 474.39,459.66 475.38,459.69 476.37,459.64 477.36,459.75 477.90,459.59 478.35,459.23 479.34,459.10 480.33,458.65 481.32,458.63 482.31,458.32 482.95,458.07 483.30,458.39 484.29,458.70 485.28,459.21 486.11,459.34 486.27,459.42 487.26,459.03 488.25,458.56 489.24,458.43 490.23,458.09 491.16,457.82 491.22,457.86 492.21,457.72 493.20,457.99 494.19,458.20 495.18,458.25 496.17,458.73 496.84,458.71 497.16,458.56 498.15,459.02 499.14,459.30 500.13,459.24 501.12,459.60 501.89,459.59 502.11,459.43 503.10,459.51" fill="none" stroke="#cdcdcd" stroke-width="0.8" stroke-opacity="0.85" stroke-linejoin="round"/>
<polyline points="444.70,459.99 444.70,459.90 445.69,460.16 446.68,459.95 447.67,459.90 448.66,459.76 449.65,459.70 450.64,459.77 451.63,459.59 452.62,459.71 452.65,459.65 453.61,459.54 454.60,459.81 455.59,459.71 456.58,459.84 457.57,459.46 458.56,459.54 459.55,459.90 460.54,459.62 461.53,459.79 462.52,459.75 463.51,459.97 464.50,459.77 465.28,459.75 465.49,459.54 466.48,459.89 467.47,459.64 468.46,459.66 469.45,459.72 470.44,459.40 471.43,459.35 472.42,459.52 473.41,459.13 474.39,459.12 475.38,459.48 476.37,459.41 476.64,459.18 477.36,459.10 478.35,458.36 479.16,458.28 479.34,458.31 480.33,456.84 481.06,456.17 481.32,456.13 482.31,455.09 482.95,454.73 483.30,455.36 484.29,456.96 484.47,456.98 485.28,457.81 486.11,458.68 486.27,458.43 487.26,457.88 488.00,457.39 488.25,456.71 489.24,455.28 489.89,454.33 490.23,453.93 491.16,453.30 491.22,453.45 492.21,454.33 492.80,454.43 493.20,454.89 494.19,456.84 494.31,456.82 495.18,457.26 496.17,457.70 496.84,457.98 497.16,457.92 498.15,458.17 499.14,458.42 499.36,458.22 500.13,458.51 501.12,459.27 501.89,459.45 502.11,459.45 503.10,459.57" fill="none" stroke="#ee7f88" stroke-width="0.8" stroke-opacity="0.9" stroke-linejoin="round"/>
<polyline points="444.70,460.09 444.70,459.94 445.69,459.71 446.68,459.73 447.67,459.81 448.66,459.73 449.65,459.70 450.64,459.65 451.63,459.80 452.62,459.51 452.65,459.62 453.61,459.81 454.60,459.53 455.59,459.40 456.58,459.39 457.57,459.46 458.56,459.55 459.55,459.75 460.54,459.47 461.53,459.72 462.52,459.35 463.51,459.53 464.50,459.52 465.28,459.56 465.49,459.80 466.48,459.56 467.47,459.33 468.46,459.53 469.45,459.59 470.44,459.57 471.43,459.30 472.42,459.72 473.41,459.49 474.39,459.25 475.38,459.49 476.37,459.62 476.64,459.47 477.36,459.08 478.35,458.59 479.16,457.94 479.34,457.73 480.33,456.62 481.06,456.03 481.32,456.09 482.31,455.41 482.95,454.83 483.30,455.28 484.29,456.46 484.47,456.95 485.28,457.57 486.11,458.70 486.27,458.52 487.26,457.72 488.00,457.51 488.25,457.28 489.24,455.72 489.89,455.00 490.23,454.54 491.16,453.82 491.22,453.63 492.21,454.68 492.80,455.07 493.20,455.58 494.19,456.58 494.31,457.00 495.18,457.46 496.17,457.42 496.84,457.92 497.16,458.03 498.15,457.78 499.14,457.90 499.36,458.03 500.13,458.71 501.12,458.96 501.89,459.39 502.11,459.25 503.10,459.26" fill="none" stroke="#5454bf" stroke-width="0.8" stroke-opacity="0.8" stroke-linejoin="round"/>
<text x="301.90" y="433.20" font-size="6.2" text-anchor="end" fill="#222" >0.4</text>
<text x="301.90" y="447.60" font-size="6.2" text-anchor="end" fill="#222" >0.2</text>
<text x="301.90" y="462.00" font-size="6.2" text-anchor="end" fill="#222" >0.0</text>
<text x="304.40" y="467.60" font-size="6.2" text-anchor="start" fill="#222" >-8,200</text>
<text x="348.70" y="467.60" font-size="6.2" text-anchor="middle" fill="#222" >0</text>
<text x="368.70" y="467.60" font-size="6.2" text-anchor="end" fill="#222" >3,000</text>
<text x="374.90" y="467.60" font-size="6.2" text-anchor="start" fill="#222" >-8,200</text>
<text x="419.20" y="467.60" font-size="6.2" text-anchor="middle" fill="#222" >0</text>
<text x="439.20" y="467.60" font-size="6.2" text-anchor="end" fill="#222" >3,000</text>
<text x="445.40" y="467.60" font-size="6.2" text-anchor="start" fill="#222" >-8,200</text>
<text x="489.70" y="467.60" font-size="6.2" text-anchor="middle" fill="#222" >0</text>
<text x="509.70" y="467.60" font-size="6.2" text-anchor="end" fill="#222" >3,000</text>
<rect x="437.50" y="188.90" width="77.50" height="31.80" fill="#fff" stroke="#8a8a8a" stroke-width="1.1"/>
<line x1="442.10" y1="196.30" x2="457.50" y2="196.30" stroke="#ee7d7d" stroke-width="1.0"/>
<text x="461.30" y="198.50" font-size="6.3" text-anchor="start" fill="#222" >HSC to MPP</text>
<line x1="442.10" y1="205.40" x2="457.50" y2="205.40" stroke="#4d4db5" stroke-width="1.0"/>
<text x="461.30" y="207.60" font-size="6.3" text-anchor="start" fill="#222" >HSC to PreMegE</text>
<line x1="442.10" y1="214.20" x2="457.50" y2="214.20" stroke="#c2c2c2" stroke-width="1.0"/>
<text x="461.30" y="216.40" font-size="6.3" text-anchor="start" fill="#222" >HSC to T cell</text>
<text x="7.00" y="522.20" font-size="18.2" text-anchor="start" font-weight="bold" fill="#000" >D</text>
<line x1="9.90" y1="538.00" x2="9.90" y2="599.30" stroke="#333" stroke-width="0.9"/>
<polygon points="9.90,533.80 7.90,538.30 11.90,538.30" fill="#000"/>
<line x1="9.90" y1="660.80" x2="9.90" y2="724.50" stroke="#333" stroke-width="0.9"/>
<text x="0" y="0" font-size="9" text-anchor="middle" fill="#222" transform="translate(12.2,628.8) rotate(-90)">% association</text>
<line x1="40.00" y1="605.70" x2="258.00" y2="605.70" stroke="#d2d2d2" stroke-width="0.9"/>
<text x="35.40" y="607.80" font-size="5.9" text-anchor="end" fill="#222" >0</text>
<line x1="40.00" y1="591.16" x2="258.00" y2="591.16" stroke="#d2d2d2" stroke-width="0.9"/>
<text x="35.40" y="593.26" font-size="5.9" text-anchor="end" fill="#222" >20</text>
<line x1="40.00" y1="576.62" x2="258.00" y2="576.62" stroke="#d2d2d2" stroke-width="0.9"/>
<text x="35.40" y="578.72" font-size="5.9" text-anchor="end" fill="#222" >40</text>
<line x1="40.00" y1="562.08" x2="258.00" y2="562.08" stroke="#d2d2d2" stroke-width="0.9"/>
<text x="35.40" y="564.18" font-size="5.9" text-anchor="end" fill="#222" >60</text>
<line x1="40.00" y1="547.54" x2="258.00" y2="547.54" stroke="#d2d2d2" stroke-width="0.9"/>
<text x="35.40" y="549.64" font-size="5.9" text-anchor="end" fill="#222" >80</text>
<line x1="40.00" y1="533.00" x2="258.00" y2="533.00" stroke="#d2d2d2" stroke-width="0.9"/>
<text x="35.40" y="535.10" font-size="5.9" text-anchor="end" fill="#222" >100</text>
<line x1="40.00" y1="532.70" x2="40.00" y2="605.70" stroke="#c8c8c8" stroke-width="0.9"/>
<rect x="48.80" y="537.87" width="12.10" height="67.83" fill="#c0002a" stroke="#7a0018" stroke-width="0.6"/>
<rect x="60.90" y="539.62" width="12.10" height="66.08" fill="#3333ff" stroke="#1c1c9a" stroke-width="0.6"/>
<rect x="73.00" y="539.62" width="12.10" height="66.08" fill="#8c8c8c" stroke="#555555" stroke-width="0.6"/>
<text x="66.95" y="615.00" font-size="6.4" text-anchor="middle" fill="#222" >H3K9me3</text>
<rect x="103.25" y="604.25" width="12.10" height="1.45" fill="#c0002a" stroke="#7a0018" stroke-width="0.6"/>
<rect x="115.35" y="604.61" width="12.10" height="1.09" fill="#3333ff" stroke="#1c1c9a" stroke-width="0.6"/>
<rect x="127.45" y="604.25" width="12.10" height="1.45" fill="#8c8c8c" stroke="#555555" stroke-width="0.6"/>
<text x="121.40" y="615.00" font-size="6.4" text-anchor="middle" fill="#222" >H3K79me2</text>
<rect x="157.70" y="586.36" width="12.10" height="19.34" fill="#c0002a" stroke="#7a0018" stroke-width="0.6"/>
<rect x="169.80" y="586.36" width="12.10" height="19.34" fill="#3333ff" stroke="#1c1c9a" stroke-width="0.6"/>
<rect x="181.90" y="584.18" width="12.10" height="21.52" fill="#8c8c8c" stroke="#555555" stroke-width="0.6"/>
<text x="175.85" y="615.00" font-size="6.4" text-anchor="middle" fill="#222" >H3ac</text>
<rect x="212.15" y="591.45" width="12.10" height="14.25" fill="#c0002a" stroke="#7a0018" stroke-width="0.6"/>
<rect x="224.25" y="590.36" width="12.10" height="15.34" fill="#3333ff" stroke="#1c1c9a" stroke-width="0.6"/>
<rect x="236.35" y="585.05" width="12.10" height="20.65" fill="#8c8c8c" stroke="#555555" stroke-width="0.6"/>
<text x="230.30" y="615.00" font-size="6.4" text-anchor="middle" fill="#222" >PolII</text>
<text x="149.20" y="528.90" font-size="7.4" text-anchor="middle" font-weight="bold" fill="#111" >Lost H3K4me3</text>
<line x1="290.20" y1="605.90" x2="511.00" y2="605.90" stroke="#d2d2d2" stroke-width="0.9"/>
<text x="285.60" y="608.00" font-size="5.9" text-anchor="end" fill="#222" >0</text>
<line x1="290.20" y1="591.36" x2="511.00" y2="591.36" stroke="#d2d2d2" stroke-width="0.9"/>
<text x="285.60" y="593.46" font-size="5.9" text-anchor="end" fill="#222" >20</text>
<line x1="290.20" y1="576.82" x2="511.00" y2="576.82" stroke="#d2d2d2" stroke-width="0.9"/>
<text x="285.60" y="578.92" font-size="5.9" text-anchor="end" fill="#222" >40</text>
<line x1="290.20" y1="562.28" x2="511.00" y2="562.28" stroke="#d2d2d2" stroke-width="0.9"/>
<text x="285.60" y="564.38" font-size="5.9" text-anchor="end" fill="#222" >60</text>
<line x1="290.20" y1="547.74" x2="511.00" y2="547.74" stroke="#d2d2d2" stroke-width="0.9"/>
<text x="285.60" y="549.84" font-size="5.9" text-anchor="end" fill="#222" >80</text>
<line x1="290.20" y1="533.20" x2="511.00" y2="533.20" stroke="#d2d2d2" stroke-width="0.9"/>
<text x="285.60" y="535.30" font-size="5.9" text-anchor="end" fill="#222" >100</text>
<line x1="290.20" y1="532.90" x2="290.20" y2="605.90" stroke="#c8c8c8" stroke-width="0.9"/>
<rect x="299.70" y="569.19" width="12.10" height="36.71" fill="#c0002a" stroke="#7a0018" stroke-width="0.6"/>
<rect x="311.80" y="571.00" width="12.10" height="34.90" fill="#3333ff" stroke="#1c1c9a" stroke-width="0.6"/>
<rect x="323.90" y="554.28" width="12.10" height="51.62" fill="#8c8c8c" stroke="#555555" stroke-width="0.6"/>
<text x="317.85" y="615.20" font-size="6.4" text-anchor="middle" fill="#222" >H3K9me3</text>
<rect x="354.15" y="577.55" width="12.10" height="28.35" fill="#c0002a" stroke="#7a0018" stroke-width="0.6"/>
<rect x="366.25" y="570.28" width="12.10" height="35.62" fill="#3333ff" stroke="#1c1c9a" stroke-width="0.6"/>
<rect x="378.35" y="565.19" width="12.10" height="40.71" fill="#8c8c8c" stroke="#555555" stroke-width="0.6"/>
<text x="372.30" y="615.20" font-size="6.4" text-anchor="middle" fill="#222" >H3K79me2</text>
<rect x="408.60" y="580.45" width="12.10" height="25.45" fill="#c0002a" stroke="#7a0018" stroke-width="0.6"/>
<rect x="420.70" y="573.91" width="12.10" height="31.99" fill="#3333ff" stroke="#1c1c9a" stroke-width="0.6"/>
<rect x="432.80" y="573.91" width="12.10" height="31.99" fill="#8c8c8c" stroke="#555555" stroke-width="0.6"/>
<text x="426.75" y="615.20" font-size="6.4" text-anchor="middle" fill="#222" >H3ac</text>
<rect x="463.05" y="571.73" width="12.10" height="34.17" fill="#c0002a" stroke="#7a0018" stroke-width="0.6"/>
<rect x="475.15" y="563.73" width="12.10" height="42.17" fill="#3333ff" stroke="#1c1c9a" stroke-width="0.6"/>
<rect x="487.25" y="563.73" width="12.10" height="42.17" fill="#8c8c8c" stroke="#555555" stroke-width="0.6"/>
<text x="481.20" y="615.20" font-size="6.4" text-anchor="middle" fill="#222" >PolII</text>
<text x="399.40" y="529.10" font-size="7.4" text-anchor="middle" font-weight="bold" fill="#111" >Lost H3K27me3</text>
<line x1="40.30" y1="724.40" x2="258.00" y2="724.40" stroke="#d2d2d2" stroke-width="0.9"/>
<text x="35.70" y="726.50" font-size="5.9" text-anchor="end" fill="#222" >0</text>
<line x1="40.30" y1="709.86" x2="258.00" y2="709.86" stroke="#d2d2d2" stroke-width="0.9"/>
<text x="35.70" y="711.96" font-size="5.9" text-anchor="end" fill="#222" >20</text>
<line x1="40.30" y1="695.32" x2="258.00" y2="695.32" stroke="#d2d2d2" stroke-width="0.9"/>
<text x="35.70" y="697.42" font-size="5.9" text-anchor="end" fill="#222" >40</text>
<line x1="40.30" y1="680.78" x2="258.00" y2="680.78" stroke="#d2d2d2" stroke-width="0.9"/>
<text x="35.70" y="682.88" font-size="5.9" text-anchor="end" fill="#222" >60</text>
<line x1="40.30" y1="666.24" x2="258.00" y2="666.24" stroke="#d2d2d2" stroke-width="0.9"/>
<text x="35.70" y="668.34" font-size="5.9" text-anchor="end" fill="#222" >80</text>
<line x1="40.30" y1="651.70" x2="258.00" y2="651.70" stroke="#d2d2d2" stroke-width="0.9"/>
<text x="35.70" y="653.80" font-size="5.9" text-anchor="end" fill="#222" >100</text>
<line x1="40.30" y1="651.40" x2="40.30" y2="724.40" stroke="#c8c8c8" stroke-width="0.9"/>
<rect x="49.10" y="693.87" width="12.10" height="30.53" fill="#c0002a" stroke="#7a0018" stroke-width="0.6"/>
<rect x="61.20" y="682.23" width="12.10" height="42.17" fill="#3333ff" stroke="#1c1c9a" stroke-width="0.6"/>
<rect x="73.30" y="665.51" width="12.10" height="58.89" fill="#8c8c8c" stroke="#555555" stroke-width="0.6"/>
<text x="67.25" y="733.70" font-size="6.4" text-anchor="middle" fill="#222" >H3K9me3</text>
<rect x="103.55" y="719.31" width="12.10" height="5.09" fill="#c0002a" stroke="#7a0018" stroke-width="0.6"/>
<rect x="127.75" y="721.49" width="12.10" height="2.91" fill="#8c8c8c" stroke="#555555" stroke-width="0.6"/>
<text x="121.70" y="733.70" font-size="6.4" text-anchor="middle" fill="#222" >H3K79me2</text>
<rect x="158.00" y="702.59" width="12.10" height="21.81" fill="#c0002a" stroke="#7a0018" stroke-width="0.6"/>
<rect x="170.10" y="700.41" width="12.10" height="23.99" fill="#3333ff" stroke="#1c1c9a" stroke-width="0.6"/>
<rect x="182.20" y="704.04" width="12.10" height="20.36" fill="#8c8c8c" stroke="#555555" stroke-width="0.6"/>
<text x="176.15" y="733.70" font-size="6.4" text-anchor="middle" fill="#222" >H3ac</text>
<rect x="212.45" y="704.77" width="12.10" height="19.63" fill="#c0002a" stroke="#7a0018" stroke-width="0.6"/>
<rect x="224.55" y="697.50" width="12.10" height="26.90" fill="#3333ff" stroke="#1c1c9a" stroke-width="0.6"/>
<rect x="236.65" y="710.22" width="12.10" height="14.18" fill="#8c8c8c" stroke="#555555" stroke-width="0.6"/>
<text x="230.60" y="733.70" font-size="6.4" text-anchor="middle" fill="#222" >PolII</text>
<text x="153.00" y="647.60" font-size="7.4" text-anchor="middle" font-weight="bold" fill="#111" >Lost both</text>
<line x1="290.20" y1="724.20" x2="508.00" y2="724.20" stroke="#d2d2d2" stroke-width="0.9"/>
<text x="285.60" y="726.30" font-size="5.9" text-anchor="end" fill="#222" >0</text>
<line x1="290.20" y1="709.66" x2="508.00" y2="709.66" stroke="#d2d2d2" stroke-width="0.9"/>
<text x="285.60" y="711.76" font-size="5.9" text-anchor="end" fill="#222" >20</text>
<line x1="290.20" y1="695.12" x2="508.00" y2="695.12" stroke="#d2d2d2" stroke-width="0.9"/>
<text x="285.60" y="697.22" font-size="5.9" text-anchor="end" fill="#222" >40</text>
<line x1="290.20" y1="680.58" x2="508.00" y2="680.58" stroke="#d2d2d2" stroke-width="0.9"/>
<text x="285.60" y="682.68" font-size="5.9" text-anchor="end" fill="#222" >60</text>
<line x1="290.20" y1="666.04" x2="508.00" y2="666.04" stroke="#d2d2d2" stroke-width="0.9"/>
<text x="285.60" y="668.14" font-size="5.9" text-anchor="end" fill="#222" >80</text>
<line x1="290.20" y1="651.50" x2="508.00" y2="651.50" stroke="#d2d2d2" stroke-width="0.9"/>
<text x="285.60" y="653.60" font-size="5.9" text-anchor="end" fill="#222" >100</text>
<line x1="290.20" y1="651.20" x2="290.20" y2="724.20" stroke="#c8c8c8" stroke-width="0.9"/>
<rect x="299.70" y="660.22" width="12.10" height="63.98" fill="#c0002a" stroke="#7a0018" stroke-width="0.6"/>
<rect x="311.80" y="660.22" width="12.10" height="63.98" fill="#3333ff" stroke="#1c1c9a" stroke-width="0.6"/>
<rect x="323.90" y="668.95" width="12.10" height="55.25" fill="#8c8c8c" stroke="#555555" stroke-width="0.6"/>
<text x="317.85" y="733.50" font-size="6.4" text-anchor="middle" fill="#222" >H3K9me3</text>
<rect x="354.15" y="712.20" width="12.10" height="12.00" fill="#c0002a" stroke="#7a0018" stroke-width="0.6"/>
<rect x="366.25" y="711.48" width="12.10" height="12.72" fill="#3333ff" stroke="#1c1c9a" stroke-width="0.6"/>
<rect x="378.35" y="710.75" width="12.10" height="13.45" fill="#8c8c8c" stroke="#555555" stroke-width="0.6"/>
<text x="372.30" y="733.50" font-size="6.4" text-anchor="middle" fill="#222" >H3K79me2</text>
<rect x="408.60" y="698.03" width="12.10" height="26.17" fill="#c0002a" stroke="#7a0018" stroke-width="0.6"/>
<rect x="420.70" y="698.75" width="12.10" height="25.45" fill="#3333ff" stroke="#1c1c9a" stroke-width="0.6"/>
<rect x="432.80" y="698.39" width="12.10" height="25.81" fill="#8c8c8c" stroke="#555555" stroke-width="0.6"/>
<text x="426.75" y="733.50" font-size="6.4" text-anchor="middle" fill="#222" >H3ac</text>
<rect x="463.05" y="693.67" width="12.10" height="30.53" fill="#c0002a" stroke="#7a0018" stroke-width="0.6"/>
<rect x="475.15" y="692.58" width="12.10" height="31.62" fill="#3333ff" stroke="#1c1c9a" stroke-width="0.6"/>
<rect x="487.25" y="691.12" width="12.10" height="33.08" fill="#8c8c8c" stroke="#555555" stroke-width="0.6"/>
<text x="481.20" y="733.50" font-size="6.4" text-anchor="middle" fill="#222" >PolII</text>
<text x="403.40" y="647.40" font-size="7.4" text-anchor="middle" font-weight="bold" fill="#111" >Remained bivalent</text>
<rect x="478.00" y="512.00" width="40.00" height="32.00" fill="#fff" stroke="none" stroke-width="0.6"/>
<rect x="481.60" y="517.20" width="3.00" height="3.00" fill="#7a0018" stroke="#333" stroke-width="0.4"/>
<text x="486.60" y="520.90" font-size="6.3" text-anchor="start" fill="#222" >MPP</text>
<rect x="481.60" y="527.10" width="3.00" height="3.00" fill="#1c1c9a" stroke="#333" stroke-width="0.4"/>
<text x="486.60" y="530.80" font-size="6.3" text-anchor="start" fill="#222" >PreMegE</text>
<rect x="481.60" y="536.90" width="3.00" height="3.00" fill="#555555" stroke="#333" stroke-width="0.4"/>
<text x="486.60" y="540.60" font-size="6.3" text-anchor="start" fill="#222" >T cell</text>
</svg></body></html>
